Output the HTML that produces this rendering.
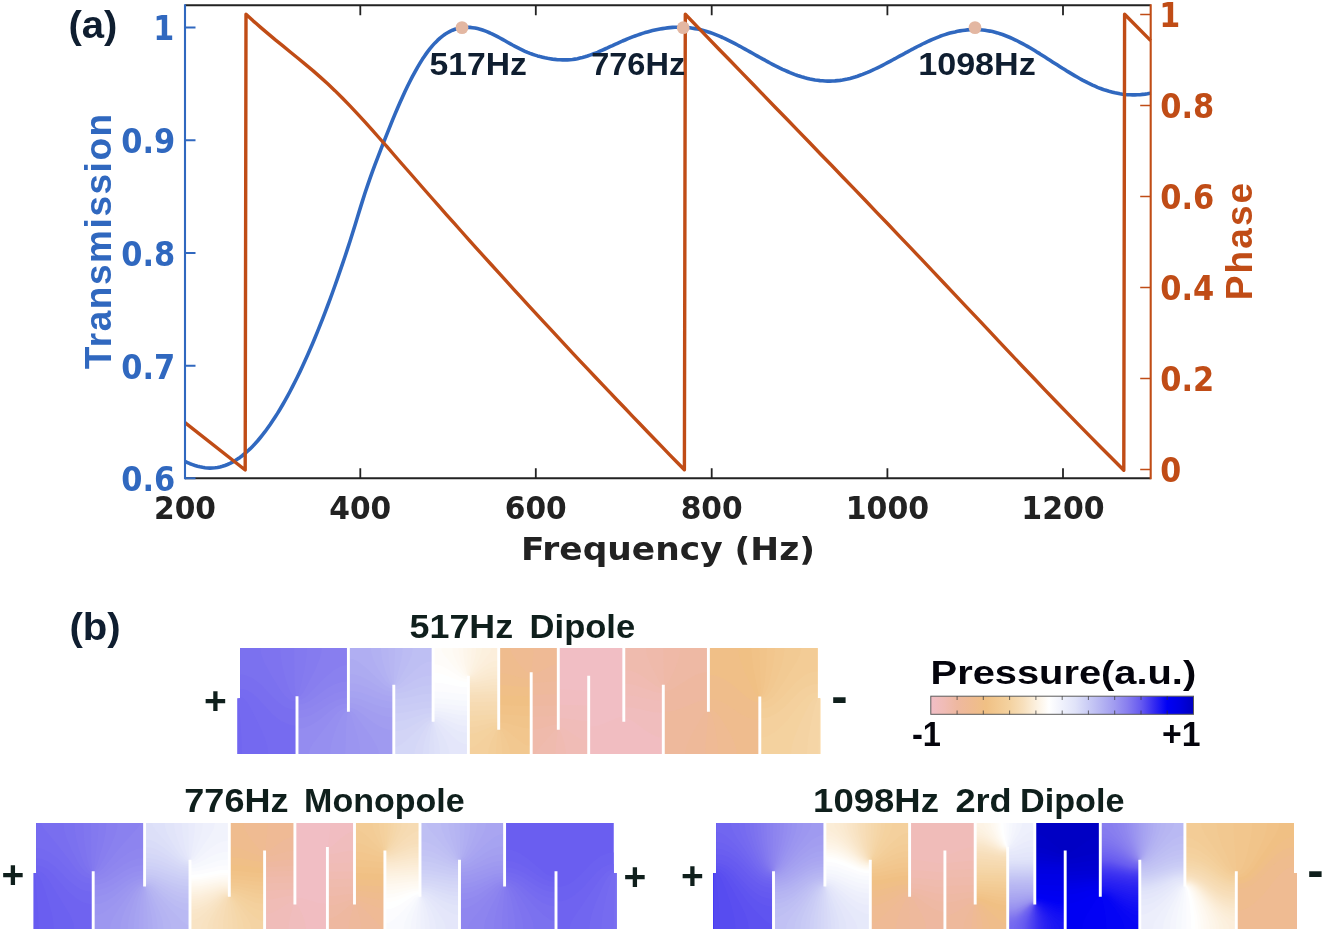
<!DOCTYPE html>
<html lang="en"><head><meta charset="utf-8"><title>Figure</title>
<style>
html,body{margin:0;padding:0;background:#fff;}
body{width:1324px;height:932px;overflow:hidden;}
svg{display:block;will-change:transform;}
text{white-space:pre;}
</style></head><body>
<svg width="1324" height="932" viewBox="0 0 1324 932">
<g fill="none" stroke-linejoin="miter">
<path d="M185.0,461.5 L187.5,462.6 L190.0,463.7 L192.5,464.6 L195.0,465.5 L197.5,466.2 L200.0,466.8 L202.5,467.3 L205.0,467.7 L207.5,468.0 L210.0,468.1 L212.5,468.0 L215.0,467.8 L217.5,467.5 L220.0,467.0 L222.5,466.3 L225.0,465.5 L227.5,464.5 L230.0,463.4 L232.5,462.1 L235.0,460.7 L237.5,459.1 L240.0,457.4 L242.5,455.5 L245.0,453.4 L247.5,451.2 L250.0,448.9 L252.5,446.4 L255.0,443.8 L257.5,441.0 L260.0,438.0 L262.5,434.9 L265.0,431.7 L267.5,428.3 L270.0,424.8 L272.5,421.1 L275.0,417.3 L277.5,413.4 L280.0,409.3 L282.5,405.0 L285.0,400.7 L287.5,396.2 L290.0,391.5 L292.5,386.7 L295.0,381.8 L297.5,376.8 L300.0,371.6 L302.5,366.3 L305.0,360.8 L307.5,355.2 L310.0,349.5 L312.5,343.7 L315.0,337.7 L317.5,331.6 L320.0,325.4 L322.5,319.1 L325.0,312.6 L327.5,306.0 L330.0,299.3 L332.5,292.5 L335.0,285.5 L337.5,278.4 L340.0,271.2 L342.5,263.9 L345.0,256.5 L347.5,248.9 L350.0,241.2 L352.5,233.3 L355.0,225.2 L357.5,217.0 L360.0,208.9 L362.5,200.9 L365.0,193.0 L367.5,185.6 L370.0,178.3 L372.5,171.4 L375.0,164.7 L377.5,158.1 L380.0,151.6 L382.5,145.2 L385.0,138.9 L387.5,132.6 L390.0,126.3 L392.5,120.1 L395.0,114.1 L397.5,108.2 L400.0,102.5 L402.5,96.9 L405.0,91.5 L407.5,86.3 L410.0,81.3 L412.5,76.4 L415.0,71.8 L417.5,67.3 L420.0,63.1 L422.5,59.1 L425.0,55.4 L427.5,51.9 L430.0,48.6 L432.5,45.6 L435.0,42.9 L437.5,40.4 L440.0,38.1 L442.5,36.1 L445.0,34.3 L447.5,32.8 L450.0,31.4 L452.5,30.2 L455.0,29.3 L457.5,28.5 L460.0,28.0 L462.5,27.6 L465.0,27.4 L467.5,27.3 L470.0,27.4 L472.5,27.7 L475.0,28.0 L477.5,28.6 L480.0,29.2 L482.5,30.0 L485.0,30.9 L487.5,31.9 L490.0,33.0 L492.5,34.2 L495.0,35.4 L497.5,36.7 L500.0,38.0 L502.5,39.4 L505.0,40.8 L507.5,42.2 L510.0,43.6 L512.5,45.0 L515.0,46.3 L517.5,47.6 L520.0,48.9 L522.5,50.1 L525.0,51.3 L527.5,52.4 L530.0,53.4 L532.5,54.3 L535.0,55.1 L537.5,55.9 L540.0,56.6 L542.5,57.2 L545.0,57.8 L547.5,58.3 L550.0,58.7 L552.5,59.1 L555.0,59.4 L557.5,59.7 L560.0,59.8 L562.5,59.9 L565.0,59.9 L567.5,59.9 L570.0,59.7 L572.5,59.5 L575.0,59.1 L577.5,58.7 L580.0,58.1 L582.5,57.5 L585.0,56.8 L587.5,56.0 L590.0,55.1 L592.5,54.2 L595.0,53.3 L597.5,52.3 L600.0,51.2 L602.5,50.1 L605.0,49.0 L607.5,47.9 L610.0,46.7 L612.5,45.6 L615.0,44.4 L617.5,43.3 L620.0,42.2 L622.5,41.0 L625.0,40.0 L627.5,38.9 L630.0,37.9 L632.5,36.9 L635.0,36.0 L637.5,35.1 L640.0,34.2 L642.5,33.4 L645.0,32.6 L647.5,31.9 L650.0,31.2 L652.5,30.6 L655.0,30.0 L657.5,29.5 L660.0,29.0 L662.5,28.6 L665.0,28.2 L667.5,27.9 L670.0,27.6 L672.5,27.4 L675.0,27.3 L677.5,27.2 L680.0,27.2 L682.5,27.3 L685.0,27.4 L687.5,27.6 L690.0,27.8 L692.5,28.2 L695.0,28.6 L697.5,29.0 L700.0,29.6 L702.5,30.2 L705.0,30.9 L707.5,31.7 L710.0,32.5 L712.5,33.4 L715.0,34.4 L717.5,35.4 L720.0,36.4 L722.5,37.5 L725.0,38.7 L727.5,39.9 L730.0,41.1 L732.5,42.4 L735.0,43.7 L737.5,45.0 L740.0,46.3 L742.5,47.7 L745.0,49.1 L747.5,50.5 L750.0,51.9 L752.5,53.3 L755.0,54.7 L757.5,56.1 L760.0,57.5 L762.5,58.9 L765.0,60.2 L767.5,61.6 L770.0,63.0 L772.5,64.3 L775.0,65.6 L777.5,66.8 L780.0,68.1 L782.5,69.3 L785.0,70.4 L787.5,71.5 L790.0,72.6 L792.5,73.6 L795.0,74.6 L797.5,75.5 L800.0,76.3 L802.5,77.1 L805.0,77.8 L807.5,78.4 L810.0,79.0 L812.5,79.5 L815.0,80.0 L817.5,80.3 L820.0,80.6 L822.5,80.8 L825.0,81.0 L827.5,81.1 L830.0,81.1 L832.5,81.0 L835.0,80.9 L837.5,80.6 L840.0,80.4 L842.5,80.0 L845.0,79.5 L847.5,79.0 L850.0,78.4 L852.5,77.7 L855.0,77.0 L857.5,76.2 L860.0,75.3 L862.5,74.4 L865.0,73.4 L867.5,72.4 L870.0,71.3 L872.5,70.2 L875.0,69.0 L877.5,67.8 L880.0,66.6 L882.5,65.3 L885.0,64.0 L887.5,62.7 L890.0,61.4 L892.5,60.0 L895.0,58.7 L897.5,57.3 L900.0,55.9 L902.5,54.6 L905.0,53.2 L907.5,51.9 L910.0,50.5 L912.5,49.2 L915.0,47.8 L917.5,46.5 L920.0,45.3 L922.5,44.0 L925.0,42.8 L927.5,41.6 L930.0,40.5 L932.5,39.4 L935.0,38.3 L937.5,37.3 L940.0,36.3 L942.5,35.4 L945.0,34.6 L947.5,33.8 L950.0,33.1 L952.5,32.4 L955.0,31.9 L957.5,31.3 L960.0,30.9 L962.5,30.5 L965.0,30.2 L967.5,29.9 L970.0,29.8 L972.5,29.7 L975.0,29.6 L977.5,29.7 L980.0,29.8 L982.5,30.0 L985.0,30.3 L987.5,30.7 L990.0,31.1 L992.5,31.6 L995.0,32.2 L997.5,32.9 L1000.0,33.7 L1002.5,34.5 L1005.0,35.5 L1007.5,36.5 L1010.0,37.5 L1012.5,38.6 L1015.0,39.8 L1017.5,41.0 L1020.0,42.3 L1022.5,43.6 L1025.0,45.0 L1027.5,46.4 L1030.0,47.8 L1032.5,49.3 L1035.0,50.8 L1037.5,52.4 L1040.0,53.9 L1042.5,55.5 L1045.0,57.1 L1047.5,58.7 L1050.0,60.3 L1052.5,61.9 L1055.0,63.5 L1057.5,65.1 L1060.0,66.7 L1062.5,68.3 L1065.0,69.8 L1067.5,71.4 L1070.0,72.9 L1072.5,74.4 L1075.0,75.9 L1077.5,77.3 L1080.0,78.7 L1082.5,80.1 L1085.0,81.4 L1087.5,82.7 L1090.0,83.9 L1092.5,85.1 L1095.0,86.2 L1097.5,87.3 L1100.0,88.3 L1102.5,89.2 L1105.0,90.1 L1107.5,90.8 L1110.0,91.6 L1112.5,92.2 L1115.0,92.8 L1117.5,93.3 L1120.0,93.8 L1122.5,94.2 L1125.0,94.5 L1127.5,94.7 L1130.0,94.8 L1132.5,94.9 L1135.0,94.9 L1137.5,94.8 L1140.0,94.7 L1142.5,94.4 L1145.0,94.1 L1147.5,93.7 L1150.0,93.2 L1150.7,93.0" stroke="#3068bf" stroke-width="3.6" stroke-linejoin="round"/>
<path d="M185,422.7 L245.2,470 L246.0,14.3 L253.4,21.1 L260.9,27.6 L268.3,33.9 L275.7,40.1 L283.2,46.1 L290.6,52.2 L298.0,58.2 L305.4,64.4 L312.9,70.6 L320.3,77.1 L327.7,83.8 L335.2,90.9 L342.6,98.3 L350.0,105.9 L357.5,113.8 L364.9,121.8 L372.3,130.1 L379.7,138.5 L387.2,146.9 L394.6,155.5 L402.0,164.0 L409.5,172.5 L416.9,181.0 L424.3,189.5 L431.8,198.0 L439.2,206.4 L446.6,214.8 L454.1,223.1 L461.5,231.5 L468.9,239.8 L476.3,248.1 L483.8,256.3 L491.2,264.5 L498.6,272.7 L506.1,280.9 L513.5,289.1 L520.9,297.2 L528.4,305.3 L535.8,313.4 L543.2,321.4 L550.7,329.4 L558.1,337.4 L565.5,345.4 L572.9,353.3 L580.4,361.3 L587.8,369.2 L595.2,377.0 L602.7,384.9 L610.1,392.7 L617.5,400.5 L625.0,408.3 L632.4,416.1 L639.8,423.8 L647.2,431.5 L654.7,439.2 L662.1,446.9 L669.5,454.6 L677.0,462.2 L684.4,469.8 L685.3,14.3 L685.3,14.3 L696.5,25.9 L707.8,37.6 L719.0,49.2 L730.3,60.8 L741.5,72.4 L752.8,84.0 L764.0,95.6 L775.2,107.2 L786.5,118.8 L797.7,130.4 L809.0,142.0 L820.2,153.7 L831.5,165.3 L842.7,177.0 L854.0,188.6 L865.2,200.3 L876.4,212.1 L887.7,223.8 L898.9,235.6 L910.2,247.4 L921.4,259.2 L932.7,271.1 L943.9,283.0 L955.1,294.9 L966.4,306.8 L977.6,318.7 L988.9,330.7 L1000.1,342.6 L1011.4,354.7 L1022.6,366.5 L1033.9,378.3 L1045.1,390.1 L1056.3,401.7 L1067.6,413.4 L1078.8,424.9 L1090.1,436.4 L1101.3,447.7 L1112.6,459.0 L1123.8,470.2 L1124.6,14.3 L1150.7,40.6" stroke="#c04c16" stroke-width="3.4" stroke-linejoin="round"/>
</g>
<g fill="none" stroke-linecap="butt">
<path d="M185.0,5.3 H1150.7 M185.0,478.2 H1150.7" stroke="#222222" stroke-width="1.9"/>
<path d="M360.3,5.3 v10 M360.3,478.2 v-10 M535.8,5.3 v10 M535.8,478.2 v-10 M711.7,5.3 v10 M711.7,478.2 v-10 M887.4,5.3 v10 M887.4,478.2 v-10 M1063.0,5.3 v10 M1063.0,478.2 v-10 " stroke="#222222" stroke-width="1.8"/>
<path d="M185.0,4.3 V479.2" stroke="#3068bf" stroke-width="2.1"/>
<path d="M185.0,27.5 h10.5 M185.0,140.3 h10.5 M185.0,253.0 h10.5 M185.0,365.7 h10.5 M185.0,478.2 h10.5 " stroke="#3068bf" stroke-width="1.9"/>
<path d="M1150.7,4.3 V479.2" stroke="#c04c16" stroke-width="2.1"/>
<path d="M1150.7,14.4 h-10.5 M1150.7,105.4 h-10.5 M1150.7,196.5 h-10.5 M1150.7,287.5 h-10.5 M1150.7,378.5 h-10.5 M1150.7,469.5 h-10.5 " stroke="#c04c16" stroke-width="1.5"/>
</g>
<circle cx="462" cy="27.6" r="6.4" fill="#e3b7a2"/>
<circle cx="683.2" cy="27.7" r="6.4" fill="#e3b7a2"/>
<circle cx="975" cy="27.6" r="6.4" fill="#e3b7a2"/>
<text x="174.2" y="40.3" font-family='"DejaVu Sans Condensed","DejaVu Sans",sans-serif' font-size="33" font-weight="bold" fill="#3068bf" text-anchor="end" textLength="21.0" lengthAdjust="spacingAndGlyphs">1</text>
<text x="175.2" y="153.10000000000002" font-family='"DejaVu Sans Condensed","DejaVu Sans",sans-serif' font-size="33" font-weight="bold" fill="#3068bf" text-anchor="end" textLength="54.0" lengthAdjust="spacingAndGlyphs">0.9</text>
<text x="175.2" y="265.8" font-family='"DejaVu Sans Condensed","DejaVu Sans",sans-serif' font-size="33" font-weight="bold" fill="#3068bf" text-anchor="end" textLength="54.0" lengthAdjust="spacingAndGlyphs">0.8</text>
<text x="175.2" y="378.5" font-family='"DejaVu Sans Condensed","DejaVu Sans",sans-serif' font-size="33" font-weight="bold" fill="#3068bf" text-anchor="end" textLength="54.0" lengthAdjust="spacingAndGlyphs">0.7</text>
<text x="175.2" y="491.0" font-family='"DejaVu Sans Condensed","DejaVu Sans",sans-serif' font-size="33" font-weight="bold" fill="#3068bf" text-anchor="end" textLength="54.0" lengthAdjust="spacingAndGlyphs">0.6</text>
<text x="1159.2" y="27.200000000000003" font-family='"DejaVu Sans Condensed","DejaVu Sans",sans-serif' font-size="33" font-weight="bold" fill="#c04c16" text-anchor="start" textLength="21.0" lengthAdjust="spacingAndGlyphs">1</text>
<text x="1160.2" y="118.2" font-family='"DejaVu Sans Condensed","DejaVu Sans",sans-serif' font-size="33" font-weight="bold" fill="#c04c16" text-anchor="start" textLength="54.0" lengthAdjust="spacingAndGlyphs">0.8</text>
<text x="1160.2" y="209.3" font-family='"DejaVu Sans Condensed","DejaVu Sans",sans-serif' font-size="33" font-weight="bold" fill="#c04c16" text-anchor="start" textLength="54.0" lengthAdjust="spacingAndGlyphs">0.6</text>
<text x="1160.2" y="300.3" font-family='"DejaVu Sans Condensed","DejaVu Sans",sans-serif' font-size="33" font-weight="bold" fill="#c04c16" text-anchor="start" textLength="54.0" lengthAdjust="spacingAndGlyphs">0.4</text>
<text x="1160.2" y="391.3" font-family='"DejaVu Sans Condensed","DejaVu Sans",sans-serif' font-size="33" font-weight="bold" fill="#c04c16" text-anchor="start" textLength="54.0" lengthAdjust="spacingAndGlyphs">0.2</text>
<text x="1160.2" y="482.3" font-family='"DejaVu Sans Condensed","DejaVu Sans",sans-serif' font-size="33" font-weight="bold" fill="#c04c16" text-anchor="start" textLength="21.0" lengthAdjust="spacingAndGlyphs">0</text>
<text x="185.0" y="518.6" font-family='"DejaVu Sans Condensed","DejaVu Sans",sans-serif' font-size="32.5" font-weight="bold" fill="#222222" text-anchor="middle" textLength="62.0" lengthAdjust="spacingAndGlyphs">200</text>
<text x="360.3" y="518.6" font-family='"DejaVu Sans Condensed","DejaVu Sans",sans-serif' font-size="32.5" font-weight="bold" fill="#222222" text-anchor="middle" textLength="62.0" lengthAdjust="spacingAndGlyphs">400</text>
<text x="535.8" y="518.6" font-family='"DejaVu Sans Condensed","DejaVu Sans",sans-serif' font-size="32.5" font-weight="bold" fill="#222222" text-anchor="middle" textLength="62.0" lengthAdjust="spacingAndGlyphs">600</text>
<text x="711.7" y="518.6" font-family='"DejaVu Sans Condensed","DejaVu Sans",sans-serif' font-size="32.5" font-weight="bold" fill="#222222" text-anchor="middle" textLength="62.0" lengthAdjust="spacingAndGlyphs">800</text>
<text x="887.4" y="518.6" font-family='"DejaVu Sans Condensed","DejaVu Sans",sans-serif' font-size="32.5" font-weight="bold" fill="#222222" text-anchor="middle" textLength="83.4" lengthAdjust="spacingAndGlyphs">1000</text>
<text x="1063.0" y="518.6" font-family='"DejaVu Sans Condensed","DejaVu Sans",sans-serif' font-size="32.5" font-weight="bold" fill="#222222" text-anchor="middle" textLength="83.4" lengthAdjust="spacingAndGlyphs">1200</text>
<text x="668" y="559.8" font-family='"DejaVu Sans",sans-serif' font-size="32.5" font-weight="bold" fill="#222222" text-anchor="middle" textLength="294" lengthAdjust="spacingAndGlyphs">Frequency (Hz)</text>
<text transform="translate(110.8,369.3) rotate(-90)" font-family='"Liberation Sans",sans-serif' font-size="37" font-weight="bold" fill="#3068bf" textLength="255.5" lengthAdjust="spacing">Transmission</text>
<text transform="translate(1252,300.3) rotate(-90)" font-family='"Liberation Sans",sans-serif' font-size="37" font-weight="bold" fill="#c04c16" textLength="117.5" lengthAdjust="spacing">Phase</text>
<text x="429.6" y="75.2" font-family='"Liberation Sans",sans-serif' font-size="30.6" font-weight="bold" fill="#0f1e30" text-anchor="start" textLength="97.3" lengthAdjust="spacingAndGlyphs">517Hz</text>
<text x="591.2" y="75.2" font-family='"Liberation Sans",sans-serif' font-size="30.6" font-weight="bold" fill="#0f1e30" text-anchor="start" textLength="94" lengthAdjust="spacingAndGlyphs">776Hz</text>
<text x="918.2" y="75.2" font-family='"Liberation Sans",sans-serif' font-size="30.6" font-weight="bold" fill="#0f1e30" text-anchor="start" textLength="117.6" lengthAdjust="spacingAndGlyphs">1098Hz</text>
<text x="68.4" y="37.6" font-family='"Liberation Sans",sans-serif' font-size="39.6" font-weight="bold" fill="#0f1e30" text-anchor="start" textLength="49" lengthAdjust="spacingAndGlyphs">(a)</text>
<text x="69.4" y="639.6" font-family='"Liberation Sans",sans-serif' font-size="39.6" font-weight="bold" fill="#0f1e30" text-anchor="start" textLength="51.3" lengthAdjust="spacingAndGlyphs">(b)</text>
<text x="409.6" y="637.9" font-family='"Liberation Sans",sans-serif' font-size="32.4" font-weight="bold" fill="#0f1f1c" text-anchor="start" textLength="103.5" lengthAdjust="spacingAndGlyphs">517Hz</text>
<text x="529.6" y="637.9" font-family='"Liberation Sans",sans-serif' font-size="32.4" font-weight="bold" fill="#0f1f1c" text-anchor="start" textLength="105.6" lengthAdjust="spacingAndGlyphs">Dipole</text>
<text x="184.3" y="811.9" font-family='"Liberation Sans",sans-serif' font-size="32.4" font-weight="bold" fill="#0f1f1c" text-anchor="start" textLength="104.2" lengthAdjust="spacingAndGlyphs">776Hz</text>
<text x="304.1" y="811.9" font-family='"Liberation Sans",sans-serif' font-size="32.4" font-weight="bold" fill="#0f1f1c" text-anchor="start" textLength="160.6" lengthAdjust="spacingAndGlyphs">Monopole</text>
<text x="813.1" y="811.9" font-family='"Liberation Sans",sans-serif' font-size="32.4" font-weight="bold" fill="#0f1f1c" text-anchor="start" textLength="125.8" lengthAdjust="spacingAndGlyphs">1098Hz</text>
<text x="955.4" y="811.9" font-family='"Liberation Sans",sans-serif' font-size="32.4" font-weight="bold" fill="#0f1f1c" text-anchor="start" textLength="56.3" lengthAdjust="spacingAndGlyphs">2rd</text>
<text x="1020.0" y="811.9" font-family='"Liberation Sans",sans-serif' font-size="32.4" font-weight="bold" fill="#0f1f1c" text-anchor="start" textLength="104.4" lengthAdjust="spacingAndGlyphs">Dipole</text>
<text x="215.4" y="713.6999999999999" font-family='"Liberation Sans",sans-serif' font-size="39" font-weight="bold" fill="#0f1f1c" text-anchor="middle">+</text>
<text x="839.4" y="712.6" font-family='"Liberation Sans",sans-serif' font-size="49" font-weight="bold" fill="#0f1f1c" text-anchor="middle">-</text>
<text x="12.8" y="888.1" font-family='"Liberation Sans",sans-serif' font-size="39" font-weight="bold" fill="#0f1f1c" text-anchor="middle">+</text>
<text x="635.0" y="889.6" font-family='"Liberation Sans",sans-serif' font-size="39" font-weight="bold" fill="#0f1f1c" text-anchor="middle">+</text>
<text x="692.3" y="888.5" font-family='"Liberation Sans",sans-serif' font-size="39" font-weight="bold" fill="#0f1f1c" text-anchor="middle">+</text>
<text x="1315.5" y="887.1" font-family='"Liberation Sans",sans-serif' font-size="49" font-weight="bold" fill="#0f1f1c" text-anchor="middle">-</text>
<defs><linearGradient id="cbar" x1="0" x2="1" y1="0" y2="0"><stop offset="0.000" stop-color="#f1bec6"/><stop offset="0.050" stop-color="#f0bcb6"/><stop offset="0.100" stop-color="#eeb8a0"/><stop offset="0.160" stop-color="#efbb90"/><stop offset="0.210" stop-color="#f0c084"/><stop offset="0.250" stop-color="#f2c890"/><stop offset="0.300" stop-color="#f4d2a0"/><stop offset="0.350" stop-color="#f7dfbb"/><stop offset="0.400" stop-color="#fcf0de"/><stop offset="0.450" stop-color="#ffffff"/><stop offset="0.500" stop-color="#eff1fc"/><stop offset="0.550" stop-color="#e0e3f9"/><stop offset="0.600" stop-color="#caccf5"/><stop offset="0.650" stop-color="#b5b4f2"/><stop offset="0.700" stop-color="#a09bf0"/><stop offset="0.750" stop-color="#877def"/><stop offset="0.800" stop-color="#665af0"/><stop offset="0.850" stop-color="#342af1"/><stop offset="0.900" stop-color="#0000f5"/><stop offset="0.950" stop-color="#0000e0"/><stop offset="1.000" stop-color="#0000be"/></linearGradient></defs>
<rect x="930.8" y="696.2" width="262.7" height="18.1" fill="url(#cbar)" stroke="#5a5a5a" stroke-width="1"/>
<path d="M957.1,696.2v3.8M957.1,714.3v-3.8M983.3,696.2v3.8M983.3,714.3v-3.8M1009.6,696.2v3.8M1009.6,714.3v-3.8M1035.9,696.2v3.8M1035.9,714.3v-3.8M1062.2,696.2v3.8M1062.2,714.3v-3.8M1088.4,696.2v3.8M1088.4,714.3v-3.8M1114.7,696.2v3.8M1114.7,714.3v-3.8M1141.0,696.2v3.8M1141.0,714.3v-3.8M1167.2,696.2v3.8M1167.2,714.3v-3.8" stroke="#333" stroke-opacity="0.8" stroke-width="0.9" fill="none"/>
<text x="930.6" y="683.6" font-family='"Liberation Sans",sans-serif' font-size="33.8" font-weight="bold" fill="#04040c" text-anchor="start" textLength="265.6" lengthAdjust="spacingAndGlyphs">Pressure(a.u.)</text>
<text x="912.0" y="746.0" font-family='"Liberation Sans",sans-serif' font-size="35" font-weight="bold" fill="#04040c" text-anchor="start" textLength="29" lengthAdjust="spacingAndGlyphs">-1</text>
<text x="1162.0" y="746.0" font-family='"Liberation Sans",sans-serif' font-size="35" font-weight="bold" fill="#04040c" text-anchor="start" textLength="38.5" lengthAdjust="spacingAndGlyphs">+1</text>
<clipPath id="clip1"><path d="M240.1,648.0 L817.3,648.0 L817.3,698.2 L820.2,698.2 L820.2,754.0 L237.2,754.0 L237.2,698.2 L240.1,698.2Z"/></clipPath>
<g clip-path="url(#clip1)">
<rect x="236.2" y="647.0" width="585.0" height="108.0" fill="#7166f0"/>
<path fill="#7469f0" d="M236.9,647.8L820.5,647.8L820.5,754.2L241.9,754.2L241.4,737.8L240.0,716.8L238.2,696.2L237.4,695.2L236.9,695.2Z"/>
<path fill="#766bf0" d="M236.9,647.8L820.5,647.8L820.5,754.2L268.2,754.2L267.4,746.8L265.1,738.8L260.4,727.8L252.1,710.8L248.4,704.2L245.0,699.8L242.4,697.6L239.4,696.8L237.4,694.9L236.9,694.9Z"/>
<path fill="#796eef" d="M236.9,647.8L820.5,647.8L820.5,754.2L297.0,754.2L296.9,725.6L292.9,725.4L288.9,724.6L281.4,721.2L276.9,718.1L272.4,714.2L257.9,698.4L252.2,693.2L248.4,690.9L244.9,689.6L241.4,688.9L236.9,688.9Z"/>
<path fill="#7b71ef" d="M236.9,647.8L820.5,647.8L820.5,754.2L297.0,754.2L296.9,709.8L292.9,709.6L288.9,708.7L284.9,707.0L281.3,704.8L274.9,699.3L260.9,684.5L252.9,678.4L245.4,675.2L241.9,674.6L236.9,674.5Z"/>
<path fill="#7e73ef" d="M260.2,647.8L820.5,647.8L820.5,754.2L297.0,754.2L296.9,701.5L292.4,701.0L288.4,699.0L284.4,695.2L280.1,689.8L270.7,674.2L263.9,661.8L261.1,654.2Z"/>
<path fill="#8076ef" d="M280.3,647.8L820.5,647.8L820.5,754.2L297.1,754.2L297.0,697.8L294.2,696.8L291.8,694.2L289.3,689.8L287.0,683.8L284.1,673.8L281.8,663.8L280.6,655.2Z"/>
<path fill="#8379ef" d="M294.1,647.8L820.5,647.8L820.5,754.2L297.1,754.2L297.1,697.8L296.2,696.2L295.7,693.8L294.6,684.8Z"/>
<path fill="#857bef" d="M306.9,647.8L820.5,647.8L820.5,754.2L297.2,754.2L297.3,697.8L300.2,687.8L304.9,666.8L306.4,656.8Z"/>
<path fill="#887eef" d="M321.5,647.8L820.5,647.8L820.5,754.2L297.2,754.2L297.4,697.8L300.6,695.8L303.7,691.8L314.5,671.2L319.9,658.2L321.2,652.8Z"/>
<path fill="#8a81ef" d="M348.5,647.8L820.5,647.8L820.5,754.2L297.2,754.2L297.4,700.1L301.9,699.3L306.8,696.2L324.4,677.9L333.9,670.0L341.4,666.1L344.9,665.3L348.4,665.1Z"/>
<path fill="#8d84ef" d="M348.5,647.8L820.5,647.8L820.5,754.2L297.3,754.2L297.4,704.6L302.9,704.0L308.4,701.7L313.4,698.5L326.4,688.8L333.9,684.4L341.4,681.9L348.4,681.3Z"/>
<path fill="#8f86ef" d="M348.5,647.8L820.5,647.8L820.5,754.2L297.3,754.2L297.4,710.5L303.9,709.8L310.4,707.6L315.9,704.6L328.4,696.5L335.4,693.1L341.9,691.2L348.4,690.7Z"/>
<path fill="#9189ef" d="M348.5,647.8L820.5,647.8L820.5,754.2L297.4,754.2L297.4,718.0L304.4,717.3L311.4,714.9L317.4,711.6L330.4,703.1L336.9,699.8L342.4,698.2L348.4,697.7Z"/>
<path fill="#948cf0" d="M348.6,647.8L820.5,647.8L820.5,754.2L297.4,754.2L297.4,728.8L303.9,728.1L310.4,725.6L317.9,720.9L331.1,710.2L336.4,706.5L342.4,703.9L348.4,703.3Z"/>
<path fill="#968ff0" d="M348.6,647.8L820.5,647.8L820.5,754.2L308.8,754.2L309.6,749.8L312.8,743.8L333.2,717.2L337.3,712.8L341.4,709.5L344.9,708.0L348.4,707.7Z"/>
<path fill="#9892f0" d="M348.6,647.8L820.5,647.8L820.5,754.2L330.1,754.2L330.6,747.8L331.8,741.2L334.3,733.2L337.5,724.8L340.5,718.2L343.3,713.8L345.8,711.2L348.5,710.2Z"/>
<path fill="#9b95f0" d="M348.7,647.8L820.5,647.8L820.5,754.2L345.3,754.2L346.2,723.2L347.3,714.2L347.9,711.2L348.6,710.2Z"/>
<path fill="#9d97f0" d="M348.7,647.8L820.5,647.8L820.5,754.2L360.1,754.2L359.5,746.2L357.6,736.8L352.2,718.8L349.5,711.2L348.8,710.2Z"/>
<path fill="#9f9af0" d="M348.7,647.8L820.5,647.8L820.5,754.2L378.7,754.2L378.4,750.8L377.1,746.8L371.2,736.8L355.4,714.8L351.9,711.4L348.9,710.2Z"/>
<path fill="#a29df0" d="M348.7,647.8L820.5,647.8L820.5,754.2L394.0,754.2L393.9,730.2L387.4,729.6L380.4,727.0L372.9,722.3L357.2,710.2L352.9,708.2L348.9,707.7Z"/>
<path fill="#a4a0f0" d="M348.8,647.8L820.5,647.8L820.5,754.2L394.0,754.2L393.9,717.2L387.9,716.9L381.9,715.5L374.9,712.8L358.9,704.9L353.9,703.5L348.9,703.0Z"/>
<path fill="#a6a3f1" d="M348.8,647.8L820.5,647.8L820.5,754.2L394.0,754.2L393.9,708.4L388.4,708.2L382.9,707.2L376.9,705.4L359.9,698.9L354.4,697.7L348.9,697.4Z"/>
<path fill="#a9a5f1" d="M348.8,647.8L820.5,647.8L820.5,754.2L394.0,754.2L393.9,701.6L388.9,701.4L383.9,700.6L377.9,698.8L360.9,692.5L354.9,691.2L348.9,690.9Z"/>
<path fill="#aba8f1" d="M348.9,647.8L820.5,647.8L820.5,754.2L394.1,754.2L393.9,696.2L388.4,695.9L382.9,694.5L365.9,687.0L359.9,684.8L354.4,683.6L348.9,683.3Z"/>
<path fill="#adabf1" d="M348.9,647.8L820.5,647.8L820.5,754.2L394.1,754.2L393.9,691.9L388.9,691.5L383.9,689.7L366.9,679.4L360.4,676.2L354.4,674.4L348.9,673.9Z"/>
<path fill="#b0aef2" d="M348.9,647.8L820.5,647.8L820.5,754.2L394.1,754.2L393.9,688.6L389.4,688.0L384.6,685.2L365.9,667.7L358.4,661.8L353.4,659.2L348.9,658.6Z"/>
<path fill="#b2b1f2" d="M370.8,647.8L820.5,647.8L820.5,754.2L394.1,754.2L393.9,686.3L390.9,685.8L388.2,683.8L384.8,679.8L380.3,672.8L375.8,664.8L372.9,658.2L371.3,652.8Z"/>
<path fill="#b5b4f2" d="M380.8,647.8L820.5,647.8L820.5,754.2L394.1,754.2L394.0,686.2L392.0,684.8L390.1,682.2L385.6,671.8L382.0,658.8Z"/>
<path fill="#b7b6f2" d="M388.2,647.8L820.5,647.8L820.5,754.2L394.2,754.2L394.1,686.2L393.0,684.8L392.2,682.2L390.3,672.8L388.7,659.8Z"/>
<path fill="#b9b9f3" d="M395.2,647.8L820.5,647.8L820.5,754.2L394.2,754.2L394.2,686.2L393.8,681.2Z"/>
<path fill="#bcbcf3" d="M402.6,647.8L820.5,647.8L820.5,754.2L394.2,754.2L394.3,686.2L401.0,661.2L402.2,654.2Z"/>
<path fill="#bebff3" d="M412.7,647.8L820.5,647.8L820.5,754.2L394.2,754.2L394.4,686.2L396.8,683.8L399.1,680.2L408.8,662.2L411.9,654.2Z"/>
<path fill="#c1c1f4" d="M433.0,647.8L820.5,647.8L820.5,754.2L394.3,754.2L394.4,686.5L396.9,686.1L400.0,684.2L413.9,670.9L421.4,665.0L427.4,662.0L432.9,661.3Z"/>
<path fill="#c3c4f4" d="M433.0,647.8L820.5,647.8L820.5,754.2L394.3,754.2L394.4,689.3L397.9,689.0L401.6,687.8L415.4,680.0L421.4,677.3L427.4,675.7L432.9,675.4Z"/>
<path fill="#c5c7f4" d="M433.0,647.8L820.5,647.8L820.5,754.2L394.3,754.2L394.4,693.5L398.4,693.3L402.9,692.4L422.4,686.2L427.4,685.4L432.9,685.1Z"/>
<path fill="#c8caf5" d="M433.0,647.8L820.5,647.8L820.5,754.2L394.3,754.2L394.4,699.1L403.4,698.4L423.4,694.2L432.9,693.6Z"/>
<path fill="#caccf5" d="M433.0,647.8L820.5,647.8L820.5,754.2L394.4,754.2L394.4,705.9L404.4,705.2L423.9,701.6L432.9,701.1Z"/>
<path fill="#cdcff6" d="M433.0,647.8L820.5,647.8L820.5,754.2L394.4,754.2L394.4,713.4L403.4,712.8L423.4,708.4L432.9,707.7Z"/>
<path fill="#cfd2f6" d="M433.0,647.8L820.5,647.8L820.5,754.2L394.4,754.2L394.4,721.7L403.9,720.6L423.9,714.1L428.4,713.2L432.9,713.0Z"/>
<path fill="#d2d4f6" d="M433.1,647.8L820.5,647.8L820.5,754.2L394.4,754.2L394.4,731.2L399.4,730.8L404.4,729.4L409.9,726.9L424.9,718.5L428.9,717.3L432.9,717.0Z"/>
<path fill="#d4d7f7" d="M433.1,647.8L820.5,647.8L820.5,754.2L394.4,754.2L394.4,746.8L398.0,746.3L401.9,744.1L408.9,738.3L425.1,722.8L429.2,720.2L432.9,719.8Z"/>
<path fill="#d7d9f7" d="M433.1,647.8L820.5,647.8L820.5,754.2L414.6,754.2L414.9,750.2L416.1,745.8L421.2,734.8L427.9,724.2L429.9,722.2L433.0,720.8Z"/>
<path fill="#d9dcf8" d="M433.1,647.8L820.5,647.8L820.5,754.2L422.8,754.2L423.6,745.8L426.2,735.2L429.8,725.2L431.5,722.2L433.1,720.8Z"/>
<path fill="#dcdff8" d="M433.1,647.8L820.5,647.8L820.5,754.2L429.0,754.2L429.3,744.8L430.4,733.8L432.3,722.2L433.1,720.8Z"/>
<path fill="#dee1f9" d="M433.1,647.8L820.5,647.8L820.5,754.2L434.4,754.2L433.0,722.2Z"/>
<path fill="#e1e4f9" d="M433.2,647.8L820.5,647.8L820.5,754.2L439.9,754.2L439.6,748.2L438.5,741.2L433.3,720.8Z"/>
<path fill="#e4e6fa" d="M433.2,647.8L820.5,647.8L820.5,754.2L449.3,754.2L448.4,747.8L445.5,740.2L437.9,726.2L435.8,723.2L433.4,720.8Z"/>
<path fill="#e6e9fa" d="M433.2,647.8L820.5,647.8L820.5,754.2L468.5,754.2L468.4,744.6L464.0,744.1L458.9,741.4L452.4,736.1L438.7,722.8L435.9,721.0L433.4,720.7Z"/>
<path fill="#e9ebfb" d="M433.2,647.8L820.5,647.8L820.5,754.2L468.5,754.2L468.4,732.8L463.4,732.5L457.9,730.9L452.4,728.1L439.7,720.2L436.4,719.0L433.4,718.8Z"/>
<path fill="#eceefb" d="M433.2,647.8L820.5,647.8L820.5,754.2L468.5,754.2L468.4,725.9L463.4,725.7L458.4,724.7L440.4,717.5L436.9,716.7L433.4,716.4Z"/>
<path fill="#eef0fc" d="M433.3,647.8L820.5,647.8L820.5,754.2L468.5,754.2L468.4,720.4L458.9,719.6L440.9,714.6L433.4,713.8Z"/>
<path fill="#f1f3fc" d="M433.3,647.8L820.5,647.8L820.5,754.2L468.5,754.2L468.4,715.5L459.4,714.9L441.4,711.4L433.4,710.7Z"/>
<path fill="#f4f5fd" d="M433.3,647.8L820.5,647.8L820.5,754.2L468.5,754.2L468.4,710.9L459.9,710.5L441.9,707.9L433.4,707.4Z"/>
<path fill="#f6f8fd" d="M433.3,647.8L820.5,647.8L820.5,754.2L468.6,754.2L468.4,706.1L459.9,705.8L441.9,703.7L433.4,703.4Z"/>
<path fill="#f9fafe" d="M433.4,647.8L820.5,647.8L820.5,754.2L468.6,754.2L468.4,700.6L460.4,700.4L442.4,698.6L433.4,698.3Z"/>
<path fill="#fcfcfe" d="M433.4,647.8L820.5,647.8L820.5,754.2L468.6,754.2L468.4,694.2L460.4,693.9L442.4,691.8L433.4,691.4Z"/>
<path fill="#feffff" d="M433.4,647.8L820.5,647.8L820.5,754.2L468.6,754.2L468.4,687.3L459.9,686.7L441.4,682.9L433.4,682.4Z"/>
<path fill="#fffefc" d="M433.4,647.8L820.5,647.8L820.5,754.2L468.6,754.2L468.4,682.0L464.4,681.8L460.4,680.9L441.9,673.9L437.4,673.0L433.4,672.8Z"/>
<path fill="#fefcf9" d="M433.4,647.8L820.5,647.8L820.5,754.2L468.6,754.2L468.4,679.3L464.9,679.0L460.9,677.5L447.4,668.9L441.9,666.0L437.4,664.6L433.4,664.2Z"/>
<path fill="#fefbf5" d="M441.3,647.8L820.5,647.8L820.5,754.2L468.7,754.2L468.4,677.3L465.9,677.1L463.1,675.8L455.6,668.8L443.9,654.8L441.8,650.8Z"/>
<path fill="#fef9f2" d="M452.4,647.8L820.5,647.8L820.5,754.2L468.7,754.2L468.5,676.8L465.9,675.6L463.9,673.8L458.2,665.2L453.8,655.8L452.7,651.8Z"/>
<path fill="#fef8ef" d="M458.4,647.8L820.5,647.8L820.5,754.2L468.7,754.2L468.5,676.8L466.9,675.2L465.2,672.8L461.6,664.2L459.2,655.2Z"/>
<path fill="#fdf6eb" d="M463.2,647.8L820.5,647.8L820.5,754.2L468.7,754.2L468.6,676.8L467.5,675.2L464.9,665.2L463.6,656.2Z"/>
<path fill="#fdf5e8" d="M467.4,647.8L820.5,647.8L820.5,754.2L468.7,754.2L468.7,676.8L468.1,675.8L467.6,668.2Z"/>
<path fill="#fdf3e5" d="M471.7,647.8L820.5,647.8L820.5,754.2L468.7,754.2L468.7,676.8L471.2,656.2Z"/>
<path fill="#fcf2e1" d="M476.2,647.8L820.5,647.8L820.5,754.2L468.7,754.2L468.8,676.8L474.8,658.2L475.9,652.8Z"/>
<path fill="#fcf0de" d="M481.9,647.8L820.5,647.8L820.5,754.2L468.7,754.2L468.8,676.8L472.7,671.2L479.1,658.8L481.3,652.8Z"/>
<path fill="#fceedb" d="M491.5,647.8L820.5,647.8L820.5,754.2L468.7,754.2L468.9,676.8L471.3,675.2L473.9,672.8L487.3,656.2L490.7,651.2Z"/>
<path fill="#fbedd7" d="M498.5,647.8L820.5,647.8L820.5,754.2L468.7,754.2L468.9,676.8L470.9,676.6L473.6,675.2L483.9,666.6L489.4,662.9L493.9,661.0L498.4,660.6Z"/>
<path fill="#fbebd4" d="M498.5,647.8L820.5,647.8L820.5,754.2L468.8,754.2L468.9,678.0L471.4,677.8L474.4,676.8L484.4,670.7L489.4,668.2L493.9,667.0L498.4,666.7Z"/>
<path fill="#faead1" d="M498.5,647.8L820.5,647.8L820.5,754.2L468.8,754.2L468.9,679.5L474.4,678.7L489.9,672.3L493.9,671.4L498.4,671.2Z"/>
<path fill="#fae8ce" d="M498.5,647.8L820.5,647.8L820.5,754.2L468.8,754.2L468.9,681.2L474.9,680.5L490.4,675.8L498.4,675.1Z"/>
<path fill="#f9e6ca" d="M498.5,647.8L820.5,647.8L820.5,754.2L468.8,754.2L468.9,683.1L475.4,682.6L490.4,679.2L498.4,678.6Z"/>
<path fill="#f9e5c7" d="M498.5,647.8L820.5,647.8L820.5,754.2L468.8,754.2L468.9,685.2L475.4,684.8L490.9,682.2L498.4,681.9Z"/>
<path fill="#f8e3c4" d="M498.5,647.8L820.5,647.8L820.5,754.2L468.8,754.2L468.9,687.5L475.9,687.2L490.9,685.3L498.4,685.0Z"/>
<path fill="#f8e2c1" d="M498.5,647.8L820.5,647.8L820.5,754.2L468.8,754.2L468.9,689.9L498.4,688.0Z"/>
<path fill="#f7e0bd" d="M498.5,647.8L820.5,647.8L820.5,754.2L468.8,754.2L468.9,692.4L498.4,691.0Z"/>
<path fill="#f7deba" d="M498.5,647.8L820.5,647.8L820.5,754.2L468.8,754.2L468.9,695.1L498.4,694.0Z"/>
<path fill="#f7ddb7" d="M498.6,647.8L820.5,647.8L820.5,754.2L468.8,754.2L468.9,698.5L498.4,697.7Z"/>
<path fill="#f6dbb3" d="M498.6,647.8L820.5,647.8L820.5,754.2L468.9,754.2L468.9,702.3L498.4,701.5Z"/>
<path fill="#f6dab0" d="M498.6,647.8L820.5,647.8L820.5,754.2L468.9,754.2L468.9,706.5L498.4,705.6Z"/>
<path fill="#f5d8ad" d="M498.6,647.8L820.5,647.8L820.5,754.2L468.9,754.2L468.9,711.1L498.4,709.9Z"/>
<path fill="#f5d7a9" d="M498.6,647.8L820.5,647.8L820.5,754.2L468.9,754.2L468.9,716.1L498.4,714.3Z"/>
<path fill="#f5d5a6" d="M498.6,647.8L820.5,647.8L820.5,695.7L820.0,695.7L819.8,696.2L818.3,754.2L468.9,754.2L468.9,721.5L475.9,721.1L490.9,718.9L498.4,718.5Z"/>
<path fill="#f4d3a3" d="M498.6,647.8L820.5,647.8L820.5,695.5L820.0,695.5L817.9,697.8L814.8,706.8L812.2,716.8L808.1,738.2L806.9,754.2L468.9,754.2L468.9,727.3L475.9,726.7L491.4,722.8L498.4,722.2Z"/>
<path fill="#f4d29f" d="M498.7,647.8L820.5,647.8L820.5,695.4L818.0,697.0L815.5,697.5L812.8,699.8L809.5,704.2L805.7,711.2L798.3,727.2L794.0,738.2L791.7,746.8L791.0,754.2L468.9,754.2L468.9,733.9L476.4,732.9L492.1,726.2L495.4,725.4L498.4,725.3Z"/>
<path fill="#f4d09d" d="M498.7,647.8L820.5,647.8L820.5,692.2L814.0,692.7L811.0,693.9L808.0,695.8L802.2,701.2L788.0,719.3L779.0,728.7L774.0,732.6L769.0,735.5L764.5,737.1L760.5,737.4L760.4,754.2L468.9,754.2L468.9,748.3L471.9,747.8L474.9,746.2L479.9,742.2L492.8,730.2L495.9,728.4L498.4,728.2Z"/>
<path fill="#f3ce99" d="M498.7,647.8L820.5,647.8L820.5,683.9L812.5,684.5L805.5,687.3L798.5,692.5L784.5,706.9L777.5,712.7L773.5,715.0L769.0,716.9L765.0,717.9L760.5,718.1L760.4,754.2L488.2,754.2L488.9,748.2L491.2,741.2L495.8,731.8L498.6,728.2Z"/>
<path fill="#f3cc96" d="M498.7,647.8L820.5,647.8L820.5,671.3L812.5,671.9L808.5,673.2L804.5,675.3L796.0,682.1L781.7,697.8L775.6,703.2L772.0,705.7L768.0,707.5L764.5,708.3L760.5,708.6L760.4,754.2L495.8,754.2L496.6,741.8L498.2,729.2L498.8,728.2Z"/>
<path fill="#f2ca93" d="M498.7,647.8L801.2,647.8L801.2,648.2L800.3,653.8L797.2,660.8L783.7,682.2L777.3,691.8L773.0,696.8L769.0,700.1L765.0,702.0L760.5,702.6L760.3,754.2L502.3,754.2L501.3,740.8L499.5,728.8L498.8,727.8Z"/>
<path fill="#f2c890" d="M498.8,647.8L784.4,647.8L784.4,648.2L783.8,655.8L781.8,664.2L778.2,674.8L773.7,685.2L770.2,691.8L767.1,695.8L764.0,698.1L760.5,698.8L760.3,754.2L510.1,754.2L509.3,747.8L506.7,740.2L502.6,732.2L498.9,727.8Z"/>
<path fill="#f2c68d" d="M498.8,647.8L774.8,647.8L774.5,655.2L773.5,663.2L769.3,682.2L767.2,688.8L765.1,693.2L762.8,696.2L760.4,697.8L760.3,754.2L531.0,754.2L531.0,745.9L527.5,745.6L524.0,744.1L519.0,740.5L505.4,729.4L501.9,727.7L498.9,727.4Z"/>
<path fill="#f1c48a" d="M498.8,647.8L766.9,647.8L766.3,665.2L764.7,682.2L762.8,692.2L761.1,696.8L760.3,697.8L760.2,754.2L531.0,754.2L531.0,728.4L523.0,727.7L506.4,723.0L498.9,722.2Z"/>
<path fill="#f1c287" d="M498.8,647.8L759.4,647.8L760.6,686.8L760.2,698.2L760.2,754.2L531.0,754.2L531.0,716.3L498.9,714.1Z"/>
<path fill="#f0c084" d="M498.8,647.8L751.4,647.8L751.9,656.8L753.3,667.2L758.1,691.2L759.4,696.8L760.1,697.8L760.1,754.2L531.0,754.2L531.0,706.1L498.9,705.1Z"/>
<path fill="#f0bf87" d="M498.9,647.8L738.3,647.8L738.6,652.8L739.7,658.2L744.8,672.2L754.1,691.8L757.0,695.8L760.0,697.8L760.1,754.2L531.1,754.2L531.0,696.5L498.9,695.5Z"/>
<path fill="#efbd8b" d="M498.9,647.8L708.9,647.8L709.0,674.8L716.0,675.7L723.5,678.7L731.5,684.0L744.9,695.8L749.5,699.1L755.0,701.7L760.0,702.2L760.0,754.2L531.1,754.2L531.0,687.3L523.0,687.0L506.4,685.3L498.9,685.0Z"/>
<path fill="#efbc8e" d="M498.9,647.8L708.9,647.8L709.0,698.9L715.5,699.6L722.0,701.9L727.5,705.1L740.5,713.9L747.5,717.4L754.0,719.3L760.0,719.7L760.0,754.2L531.2,754.2L531.0,679.4L523.5,678.6L506.9,673.8L498.9,673.1Z"/>
<path fill="#efbb92" d="M510.5,647.8L708.8,647.8L709.0,709.2L712.5,709.9L715.8,712.2L719.7,716.8L724.3,723.8L730.4,734.2L734.2,742.2L736.2,748.8L736.8,754.2L531.2,754.2L531.0,673.2L528.5,673.0L526.3,671.8L523.0,668.8L518.7,663.8L512.2,654.2L510.9,650.8Z"/>
<path fill="#efba95" d="M533.6,647.8L708.7,647.8L708.8,710.2L710.8,713.2L712.1,716.2L714.9,726.8L717.4,741.8L718.1,754.2L531.2,754.2L531.2,673.8L533.2,655.8Z"/>
<path fill="#eeb999" d="M558.5,647.8L708.7,647.8L708.7,710.2L705.8,741.2L705.2,754.2L531.3,754.2L531.5,674.3L534.0,674.2L536.5,673.4L550.5,665.9L554.5,664.8L558.5,664.6Z"/>
<path fill="#eeb99c" d="M558.5,647.8L708.6,647.8L708.5,710.2L705.3,712.2L702.6,715.8L691.6,734.8L686.7,745.8L685.6,750.2L685.3,754.2L531.3,754.2L531.5,683.1L558.5,681.1Z"/>
<path fill="#eeb8a0" d="M558.6,647.8L708.5,647.8L708.5,700.1L703.5,700.3L698.0,701.6L681.0,708.4L675.0,710.4L669.5,711.5L664.0,711.8L663.9,754.2L531.3,754.2L531.5,694.8L558.5,694.3Z"/>
<path fill="#eeb9a4" d="M558.6,647.8L708.5,647.8L708.5,672.1L702.5,672.5L696.5,674.5L690.0,677.9L673.5,688.6L668.5,690.6L664.0,691.0L663.8,754.2L531.4,754.2L531.5,706.1L558.5,705.6Z"/>
<path fill="#efb9a7" d="M558.6,647.8L680.2,647.8L679.9,652.8L678.9,657.8L674.7,669.8L668.7,681.8L666.7,684.2L663.9,686.2L663.8,754.2L531.4,754.2L531.5,716.9L558.5,715.5Z"/>
<path fill="#efbaab" d="M558.7,647.8L663.3,647.8L663.8,676.2L663.8,754.2L531.4,754.2L531.5,729.5L538.5,729.0L552.5,724.9L558.5,724.3Z"/>
<path fill="#efbbae" d="M558.7,647.8L645.9,647.8L646.9,655.2L650.3,664.2L659.1,681.2L661.2,684.2L663.5,686.2L663.7,754.2L535.4,754.2L535.7,752.8L537.3,750.2L552.5,732.8L555.6,729.8L558.5,728.2Z"/>
<path fill="#f0bbb2" d="M558.7,647.8L624.4,647.8L624.5,669.9L630.0,670.4L636.0,672.5L642.5,676.3L656.5,686.2L660.0,687.7L663.5,688.0L663.7,754.2L555.3,754.2L556.1,743.8L558.0,729.2L558.7,728.2Z"/>
<path fill="#f0bcb6" d="M558.8,647.8L624.4,647.8L624.5,683.9L629.5,684.1L634.5,685.0L655.0,692.0L659.5,692.9L663.5,693.0L663.6,754.2L566.0,754.2L565.5,748.2L564.1,741.8L561.3,733.2L558.8,728.2Z"/>
<path fill="#f0bcb9" d="M558.8,647.8L624.3,647.8L624.5,695.2L633.5,695.8L653.5,699.9L663.5,700.7L663.6,754.2L588.5,754.2L588.5,740.5L584.5,740.2L580.5,738.9L575.5,736.1L564.5,728.5L561.5,727.3L559.0,727.1Z"/>
<path fill="#f0bdbd" d="M558.8,647.8L624.2,647.8L624.5,707.0L634.0,707.8L654.0,712.2L663.5,712.8L663.5,754.2L588.7,754.2L588.5,721.1L581.0,720.8L566.0,718.6L559.0,718.2Z"/>
<path fill="#f1bdc1" d="M558.9,647.8L624.1,647.8L624.5,718.4L628.0,718.8L632.3,720.8L647.0,731.5L653.0,735.1L658.5,737.2L663.5,737.6L663.5,754.2L588.8,754.2L588.5,705.5L559.0,704.7Z"/>
<path fill="#f1bec4" d="M558.9,647.8L624.0,647.8L624.0,716.9L620.5,717.0L617.0,717.9L604.0,723.5L598.5,725.4L593.5,726.4L589.0,726.5L588.5,690.8L558.9,689.2Z"/>
</g>
<path d="M297.0,754.5V696.3M348.4,647.5V711.7M393.8,754.5V684.8M433.1,647.5V721.8M468.4,754.5V675.7M498.7,647.5V729.7M531.2,754.5V672.2M558.3,647.5V729.7M588.7,754.5V675.7M623.8,647.5V721.8M663.3,754.5V684.8M708.4,647.5V711.7M759.8,754.5V696.4" stroke="#fff" stroke-width="2.9" fill="none"/>
<clipPath id="clip2"><path d="M36.3,822.9 L613.5,822.9 L613.5,873.1 L616.4,873.1 L616.4,928.9 L33.4,928.9 L33.4,873.1 L36.3,873.1Z"/></clipPath>
<g clip-path="url(#clip2)">
<rect x="32.4" y="821.9" width="585.0" height="108.0" fill="#675bf0"/>
<path fill="#6a5ef0" d="M33.1,822.6L616.6,822.6L616.6,929.1L38.6,929.1L38.2,913.1L36.5,891.6L34.5,871.1L33.6,870.1L33.1,870.1Z"/>
<path fill="#6c61f0" d="M33.1,822.6L505.1,822.6L505.1,849.1L512.1,849.9L519.6,853.0L527.6,858.4L545.5,873.6L550.6,876.2L556.1,876.9L556.6,887.0L560.6,886.8L564.6,885.8L568.6,884.2L572.6,881.8L579.1,876.2L593.1,861.7L600.6,856.1L608.1,853.0L611.6,852.4L616.6,852.4L616.6,929.1L53.7,929.1L53.2,921.6L51.7,913.1L45.1,890.6L41.9,882.1L39.2,876.6L36.4,872.6L33.6,869.9L33.1,869.9Z"/>
<path fill="#6f63f0" d="M33.1,822.6L505.1,822.6L505.1,860.7L512.1,861.3L518.6,863.4L525.6,867.1L538.8,876.1L544.0,879.1L550.1,881.3L556.1,881.9L556.6,901.6L561.1,901.2L565.6,900.1L570.1,898.0L574.6,895.1L582.6,888.0L596.9,872.1L603.1,867.1L609.6,864.3L616.6,863.9L616.6,929.1L74.2,929.1L73.4,923.1L70.3,915.6L48.7,880.1L44.8,875.1L41.1,871.9L38.1,870.5L34.6,870.3L33.1,869.7Z"/>
<path fill="#7166f0" d="M33.1,822.6L505.1,822.6L505.1,867.2L511.1,867.7L517.1,869.4L524.1,872.8L536.6,880.7L542.6,883.9L549.6,886.2L556.1,886.8L556.6,929.1L93.2,929.1L93.2,904.1L89.2,903.9L85.2,903.1L81.2,901.4L77.2,899.1L68.2,891.7L53.7,875.1L47.8,869.6L44.1,867.3L40.6,865.9L37.6,865.3L33.1,865.2ZM611.1,869.6L616.6,869.3L616.6,929.1L569.5,929.1L570.4,924.1L573.1,918.6L598.6,881.1L605.3,873.1L608.1,871.0Z"/>
<path fill="#7469f0" d="M33.1,822.6L505.1,822.6L505.1,872.0L511.6,872.6L518.1,874.8L524.1,878.1L537.1,886.6L543.6,889.8L549.6,891.6L556.1,892.1L556.5,929.1L93.2,929.1L93.2,891.7L88.7,891.5L84.7,890.7L80.2,888.9L76.2,886.6L69.2,880.9L55.1,866.7L48.1,861.5L41.1,858.7L33.1,858.2ZM615.8,870.6L616.6,870.3L616.6,929.1L589.3,929.1L590.0,921.6L591.9,913.6L595.4,903.6L601.8,888.6L605.4,881.1L608.9,875.6L611.3,873.1L614.1,872.2Z"/>
<path fill="#766bf0" d="M33.1,822.6L505.1,822.6L505.1,875.8L511.1,876.5L517.6,879.0L522.8,882.1L535.6,891.5L543.1,895.6L549.6,897.7L556.1,898.2L556.4,929.1L93.2,929.1L93.2,884.0L89.2,883.8L85.2,882.9L81.7,881.4L77.7,878.9L71.6,873.6L57.7,858.6L49.1,852.0L41.6,848.8L38.1,848.2L33.1,848.1ZM615.9,870.6L616.6,870.5L616.6,929.1L601.2,929.1L602.4,914.1L606.6,894.6L611.3,878.6L613.6,873.1Z"/>
<path fill="#796eef" d="M41.3,822.6L505.1,822.6L505.1,879.0L511.1,879.9L516.8,882.6L521.6,886.1L535.1,897.8L542.6,902.8L549.6,905.6L556.1,906.2L556.3,929.1L93.2,929.1L93.2,878.6L89.2,878.4L85.2,877.0L81.2,874.4L77.1,870.6L59.1,846.9L43.9,828.6L41.8,825.1ZM616.1,870.6L616.6,870.6L616.6,929.1L613.4,929.1L614.2,900.1L615.8,871.1Z"/>
<path fill="#7b71ef" d="M63.3,822.6L505.0,822.6L505.1,881.7L510.1,882.5L515.1,885.5L520.6,890.6L535.6,907.4L543.6,915.1L550.6,920.0L553.1,920.9L556.1,921.1L556.2,929.1L93.3,929.1L93.2,874.9L89.2,874.4L85.4,872.1L81.7,868.1L77.5,861.6L70.9,848.6L66.3,837.6L64.0,829.6Z"/>
<path fill="#7e73ef" d="M74.4,822.6L505.0,822.6L505.1,884.0L508.6,884.6L512.3,887.1L516.2,891.6L520.7,898.1L527.0,908.6L531.0,916.6L533.2,923.1L533.9,929.1L93.3,929.1L93.2,872.6L90.2,872.0L87.6,869.6L84.8,865.1L82.2,859.1L78.9,849.1L76.2,838.6L74.8,830.1Z"/>
<path fill="#8076ef" d="M83.2,822.6L505.0,822.6L505.1,885.1L508.1,886.6L510.4,889.1L513.3,894.1L516.5,901.1L521.7,916.6L522.9,923.1L523.3,929.1L93.3,929.1L93.2,872.6L91.1,870.6L89.7,868.1L86.9,858.1L84.1,839.6Z"/>
<path fill="#8379ef" d="M91.0,822.6L505.0,822.6L505.1,885.1L507.0,887.6L508.5,890.6L511.7,901.6L514.5,916.6L515.4,929.1L93.3,929.1L93.3,872.6L92.6,871.6L91.9,868.1L91.2,859.6Z"/>
<path fill="#857bef" d="M98.5,822.6L505.0,822.6L505.0,885.1L506.5,891.6L507.4,900.1L508.4,929.1L93.4,929.1L93.5,871.1L97.7,838.1Z"/>
<path fill="#887eef" d="M106.4,822.6L505.0,822.6L504.9,885.1L502.3,916.6L501.9,929.1L93.4,929.1L93.5,872.6L94.3,871.6L97.4,863.6L103.3,843.6L105.7,832.1Z"/>
<path fill="#8a81ef" d="M117.5,822.6L504.9,822.6L504.8,885.1L503.6,886.6L502.1,891.1L496.4,910.6L494.4,920.6L493.8,929.1L93.4,929.1L93.6,872.6L96.7,870.6L99.8,866.6L110.6,846.1L115.9,833.1L117.1,827.6Z"/>
<path fill="#8d84ef" d="M140.6,822.6L504.9,822.6L504.7,885.1L502.0,887.1L499.5,890.6L489.4,910.1L485.3,920.6L484.4,925.1L484.1,929.1L93.4,929.1L93.7,873.8L96.2,873.5L98.2,872.6L103.4,868.1L120.7,846.7L138.3,827.1L140.1,824.6Z"/>
<path fill="#8f86ef" d="M144.7,822.6L504.9,822.6L504.7,885.1L502.6,885.2L500.6,886.1L495.5,891.1L471.1,921.1L468.4,925.6L467.6,929.1L93.5,929.1L93.7,876.6L98.7,875.9L103.8,873.1L121.2,857.9L129.7,851.9L137.2,848.8L144.7,847.9Z"/>
<path fill="#9189ef" d="M144.7,822.6L504.9,822.6L504.6,883.5L500.6,884.0L496.6,886.1L481.1,899.5L473.1,905.1L466.6,907.9L460.1,908.8L460.1,929.1L93.5,929.1L93.6,880.3L99.2,879.7L105.2,877.4L110.3,874.1L123.2,864.8L130.7,860.7L137.7,858.4L144.7,857.9Z"/>
<path fill="#948cf0" d="M144.7,822.6L504.9,822.6L504.6,881.4L500.1,881.8L495.6,883.6L479.6,894.0L472.6,897.6L466.1,899.6L460.1,900.1L460.1,929.1L93.5,929.1L93.7,884.9L99.7,884.3L106.2,882.1L111.7,879.1L124.7,870.8L131.7,867.3L138.2,865.5L144.7,865.0Z"/>
<path fill="#968ff0" d="M144.7,822.6L504.8,822.6L504.7,879.0L500.1,879.2L495.1,880.7L478.6,889.1L472.1,891.8L466.1,893.3L460.1,893.8L460.1,929.1L93.6,929.1L93.6,890.2L100.2,889.6L107.2,887.3L113.2,884.2L126.2,875.8L132.7,872.7L138.7,871.0L144.7,870.6Z"/>
<path fill="#9892f0" d="M144.7,822.6L504.8,822.6L504.6,876.2L499.6,876.4L494.1,877.8L477.6,884.9L471.6,887.0L465.6,888.2L460.1,888.5L460.1,929.1L93.6,929.1L93.7,896.5L99.7,896.0L106.2,894.0L113.2,890.3L126.2,881.1L131.7,877.9L138.2,875.5L144.7,874.9Z"/>
<path fill="#9b95f0" d="M144.7,822.6L504.8,822.6L504.6,873.0L499.1,873.3L493.6,874.5L476.6,880.9L470.6,882.7L465.1,883.7L460.1,883.9L460.1,929.1L93.6,929.1L93.6,904.3L100.2,903.5L106.7,901.0L114.2,896.3L127.2,885.5L132.7,881.7L138.7,879.0L144.7,878.4Z"/>
<path fill="#9d97f0" d="M144.7,822.6L504.8,822.6L504.6,869.5L499.6,869.7L494.6,870.5L472.1,878.2L466.1,879.5L460.1,879.8L460.1,929.1L93.6,929.1L93.7,915.6L99.2,914.8L105.2,911.6L113.7,904.7L128.3,889.6L133.3,885.1L139.2,881.8L144.7,881.1Z"/>
<path fill="#9f9af0" d="M144.8,822.6L504.8,822.6L504.6,865.5L499.1,865.7L494.1,866.6L471.6,874.4L465.6,875.7L460.1,876.0L460.1,929.1L110.0,929.1L110.8,923.6L113.6,917.1L118.9,908.6L128.8,894.6L133.3,889.1L137.2,885.6L141.2,883.5L144.7,883.2Z"/>
<path fill="#a29df0" d="M144.8,822.6L504.7,822.6L504.6,860.7L499.1,860.9L493.6,862.0L487.6,863.9L470.6,870.8L465.1,872.1L460.1,872.4L460.1,929.1L120.2,929.1L120.8,923.1L122.5,916.6L125.7,908.6L130.8,898.6L135.0,891.6L138.2,887.6L141.6,885.1L144.7,884.8Z"/>
<path fill="#a4a0f0" d="M144.8,822.6L504.7,822.6L504.6,854.2L499.1,854.5L493.1,855.9L486.6,858.6L470.1,866.9L465.1,868.3L460.1,868.7L460.0,929.1L127.8,929.1L128.1,923.1L129.3,916.1L134.3,900.1L137.3,893.1L139.9,888.6L141.7,886.6L144.7,885.1Z"/>
<path fill="#a6a3f1" d="M144.8,822.6L504.7,822.6L504.6,846.2L498.6,846.7L492.6,848.7L485.6,852.5L469.6,863.2L464.6,865.2L460.1,865.7L460.0,929.1L133.6,929.1L134.5,916.1L137.7,900.1L141.2,889.6L142.6,887.1L144.7,885.1Z"/>
<path fill="#a9a5f1" d="M144.8,822.6L504.7,822.6L504.6,833.7L499.6,834.4L494.1,837.2L486.6,843.2L469.3,859.6L464.6,862.5L460.1,863.3L460.0,929.1L138.6,929.1L139.2,914.6L140.8,899.1L142.6,889.6L143.6,886.6L144.8,885.1Z"/>
<path fill="#aba8f1" d="M144.8,822.6L486.2,822.6L486.2,823.1L485.4,828.1L483.6,833.1L480.3,839.1L474.9,847.6L469.8,854.6L466.3,858.6L463.1,861.0L460.1,861.5L460.0,929.1L143.3,929.1L143.4,896.6L144.2,886.1L144.8,885.1Z"/>
<path fill="#adabf1" d="M144.8,822.6L477.0,822.6L476.7,827.6L475.7,832.6L471.3,844.6L465.1,856.6L462.5,859.6L460.1,861.1L460.0,929.1L147.9,929.1L147.4,916.6L144.8,886.6Z"/>
<path fill="#b0aef2" d="M144.9,822.6L470.5,822.6L469.7,832.6L467.0,844.6L463.4,855.6L460.0,861.1L460.0,929.1L152.6,929.1L152.2,921.6L151.1,913.1L145.0,885.1Z"/>
<path fill="#b2b1f2" d="M144.9,822.6L464.9,822.6L464.5,833.1L463.3,845.1L461.8,854.6L460.0,861.1L460.0,929.1L157.6,929.1L157.0,921.1L154.9,911.6L148.9,893.6L145.0,885.1Z"/>
<path fill="#b5b4f2" d="M144.9,822.6L459.7,822.6L460.1,850.1L459.9,929.1L163.5,929.1L162.5,920.6L159.0,910.6L150.0,891.6L147.5,887.6L145.1,885.1Z"/>
<path fill="#b7b6f2" d="M144.9,822.6L454.3,822.6L455.5,837.1L459.2,860.1L459.9,861.1L459.9,929.1L171.2,929.1L170.9,925.1L169.7,921.1L164.4,910.6L151.2,890.1L148.0,886.6L145.1,885.1Z"/>
<path fill="#b9b9f3" d="M144.9,822.6L448.3,822.6L449.0,830.1L451.0,838.6L456.8,855.6L458.5,859.6L459.8,861.1L459.9,929.1L190.2,929.1L190.2,925.3L186.7,924.7L182.2,921.2L169.7,908.6L152.4,888.6L148.6,885.6L145.2,884.8Z"/>
<path fill="#bcbcf3" d="M144.9,822.6L440.8,822.6L441.8,829.6L445.4,838.6L455.0,856.1L457.2,859.1L459.7,861.1L459.9,929.1L190.2,929.1L190.2,910.8L183.7,910.1L176.7,906.8L168.7,900.9L153.0,886.6L148.7,884.2L145.2,883.7Z"/>
<path fill="#bebff3" d="M144.9,822.6L426.0,822.6L426.5,825.1L428.7,828.6L451.6,855.6L456.1,860.0L459.7,861.1L459.9,929.1L190.2,929.1L190.2,903.8L183.7,903.2L176.7,900.7L169.2,896.2L153.4,884.6L149.2,882.7L145.2,882.2Z"/>
<path fill="#c1c1f4" d="M145.0,822.6L420.6,822.6L420.6,841.3L426.1,842.0L432.1,844.4L439.1,849.0L452.9,860.1L456.1,861.8L459.6,862.2L459.9,929.1L190.2,929.1L190.2,898.4L183.7,897.9L177.2,896.0L170.2,892.6L154.2,882.8L149.7,881.1L145.2,880.6Z"/>
<path fill="#c3c4f4" d="M145.0,822.6L420.6,822.6L420.6,849.5L426.1,849.9L431.6,851.5L438.1,854.5L452.1,862.6L456.1,863.9L459.6,864.1L459.9,929.1L190.2,929.1L190.2,893.8L184.2,893.5L177.7,891.9L170.7,889.0L154.7,880.6L149.7,879.1L145.2,878.8Z"/>
<path fill="#c5c7f4" d="M145.0,822.6L420.6,822.6L420.6,855.7L425.6,856.0L431.1,857.1L437.1,859.2L451.1,865.2L455.6,866.3L459.6,866.5L459.8,929.1L190.2,929.1L190.2,889.8L184.2,889.5L178.2,888.2L171.7,885.8L155.2,878.4L150.2,877.1L145.2,876.7Z"/>
<path fill="#c8caf5" d="M145.0,822.6L420.6,822.6L420.6,861.0L430.6,862.0L450.6,868.1L455.1,869.0L459.6,869.2L459.8,929.1L190.2,929.1L190.2,886.2L184.7,885.9L178.7,884.8L172.7,882.8L155.7,876.0L150.2,874.7L145.2,874.4Z"/>
<path fill="#caccf5" d="M145.0,822.6L420.6,822.6L420.6,865.6L430.1,866.4L450.1,871.2L459.6,872.1L459.8,929.1L190.2,929.1L190.2,882.8L184.7,882.5L179.2,881.5L173.2,879.7L156.2,873.3L150.7,872.1L145.2,871.8Z"/>
<path fill="#cdcff6" d="M145.0,822.6L420.6,822.6L420.6,869.7L429.6,870.3L449.6,874.4L459.6,875.2L459.8,929.1L190.2,929.1L190.2,879.5L184.7,879.3L179.7,878.4L156.7,870.5L150.7,869.2L145.2,868.9Z"/>
<path fill="#cfd2f6" d="M145.1,822.6L420.6,822.6L420.6,873.3L430.6,874.0L451.1,877.8L459.6,878.3L459.8,929.1L190.2,929.1L190.2,876.5L185.2,876.3L180.2,875.4L157.2,867.3L151.2,866.0L145.2,865.7Z"/>
<path fill="#d2d4f6" d="M145.1,822.6L420.6,822.6L420.6,876.5L430.6,877.2L450.6,881.0L459.6,881.5L459.8,929.1L190.3,929.1L190.2,873.6L184.7,873.3L178.7,872.0L161.7,865.2L155.7,863.3L150.2,862.3L145.2,862.0Z"/>
<path fill="#d4d7f7" d="M145.1,822.6L420.6,822.6L420.6,879.6L430.1,880.3L450.6,884.3L459.6,884.9L459.8,929.1L190.3,929.1L190.2,870.9L184.7,870.5L179.2,869.1L162.2,861.5L156.2,859.4L150.7,858.2L145.2,857.8Z"/>
<path fill="#d7d9f7" d="M145.1,822.6L420.6,822.6L420.6,882.4L430.1,883.3L450.1,887.8L459.6,888.4L459.7,929.1L190.3,929.1L190.2,868.4L185.2,868.1L179.7,866.4L162.7,857.5L156.2,854.8L150.7,853.4L145.2,853.0Z"/>
<path fill="#d9dcf8" d="M145.1,822.6L420.5,822.6L420.6,885.1L429.6,886.0L450.1,891.4L459.6,892.1L459.7,929.1L190.3,929.1L190.2,866.2L185.2,865.8L180.2,863.9L163.2,852.9L156.7,849.5L150.7,847.6L145.2,847.2Z"/>
<path fill="#dcdff8" d="M145.1,822.6L420.5,822.6L420.6,887.4L425.1,887.7L429.6,888.6L449.6,895.1L454.6,895.9L459.6,896.1L459.7,929.1L190.3,929.1L190.2,864.3L185.7,863.8L180.7,861.5L163.7,847.5L156.2,842.4L150.7,840.1L145.2,839.4Z"/>
<path fill="#dee1f9" d="M152.3,822.6L420.5,822.6L420.6,889.6L424.6,889.8L429.1,891.0L443.6,897.2L449.6,899.2L454.6,900.2L459.6,900.5L459.7,929.1L190.3,929.1L190.2,862.7L187.2,862.5L184.2,861.2L180.7,858.6L177.1,855.1L155.9,830.6L153.0,826.1Z"/>
<path fill="#e1e4f9" d="M164.6,822.6L420.5,822.6L420.6,891.4L424.6,891.8L428.8,893.1L443.1,901.0L449.1,903.6L454.6,905.1L459.6,905.3L459.7,929.1L190.3,929.1L190.2,861.5L187.2,861.1L184.2,859.1L180.5,855.1L175.6,848.1L170.3,839.6L167.0,833.1L165.2,827.6Z"/>
<path fill="#e4e6fa" d="M174.2,822.6L420.5,822.6L420.6,893.7L424.1,894.2L428.2,896.1L443.1,908.0L449.6,912.3L454.6,914.4L459.6,914.9L459.7,929.1L190.3,929.1L190.2,861.1L187.6,859.6L185.4,857.1L179.9,846.1L175.5,833.1L174.5,827.6Z"/>
<path fill="#e6e9fa" d="M181.7,822.6L420.5,822.6L420.6,895.5L423.1,895.8L426.5,898.1L430.2,902.1L436.1,909.6L443.6,921.1L445.1,925.1L445.7,929.1L190.3,929.1L190.3,861.1L188.9,859.6L187.5,856.6L184.8,847.1L182.5,834.1Z"/>
<path fill="#e9ebfb" d="M188.4,822.6L420.5,822.6L420.6,895.6L423.3,897.6L425.3,900.1L431.0,910.6L434.8,920.6L435.7,925.1L436.0,929.1L190.4,929.1L190.4,861.1L189.6,860.1L188.8,850.1Z"/>
<path fill="#eceefb" d="M195.1,822.6L420.5,822.6L420.5,895.6L423.9,901.6L427.0,911.1L429.2,920.6L429.9,929.1L190.4,929.1L190.4,861.1L194.4,834.1Z"/>
<path fill="#eef0fc" d="M203.0,822.6L420.4,822.6L420.5,895.6L422.3,902.6L423.6,911.1L424.6,920.6L424.9,929.1L190.4,929.1L190.5,861.1L194.4,853.1L200.3,837.1L202.4,829.1Z"/>
<path fill="#f1f3fc" d="M215.0,822.6L420.4,822.6L420.4,929.1L190.4,929.1L190.6,861.1L193.5,859.1L196.1,856.1L209.9,836.1L213.8,828.6Z"/>
<path fill="#f4f5fd" d="M229.2,822.6L420.4,822.6L420.3,895.6L419.7,896.6L416.8,915.6L415.8,929.1L190.4,929.1L190.7,862.0L193.7,861.5L196.7,859.9L210.2,848.6L217.2,843.8L223.2,841.3L229.2,840.6Z"/>
<path fill="#f6f8fd" d="M229.2,822.6L420.4,822.6L420.3,895.6L419.0,897.1L417.9,900.1L413.0,914.6L411.1,922.6L410.6,929.1L190.4,929.1L190.7,864.7L194.2,864.4L198.1,863.1L211.7,856.1L218.2,853.4L223.7,852.0L229.1,851.7Z"/>
<path fill="#f9fafe" d="M229.2,822.6L420.4,822.6L420.2,895.6L417.8,897.6L415.9,900.1L407.9,914.6L404.6,922.6L403.6,929.1L190.5,929.1L190.7,868.1L194.7,867.9L199.2,867.0L218.7,860.6L223.7,859.7L229.2,859.5Z"/>
<path fill="#fcfcfe" d="M229.2,822.6L420.4,822.6L420.2,895.6L417.1,896.4L414.7,898.1L400.6,913.2L393.1,920.1L388.6,922.8L385.1,923.3L385.1,929.1L190.5,929.1L190.7,871.7L199.7,870.8L219.7,866.0L229.2,865.3Z"/>
<path fill="#feffff" d="M229.2,822.6L420.4,822.6L420.1,894.2L417.1,894.4L413.9,895.6L401.1,904.1L395.1,907.3L390.1,908.9L385.1,909.2L385.1,929.1L190.5,929.1L190.7,875.1L200.2,874.3L219.7,870.3L229.2,869.7Z"/>
<path fill="#fffefc" d="M229.2,822.6L420.3,822.6L420.1,892.1L416.6,892.3L413.1,893.2L400.1,899.1L394.6,901.0L390.1,902.0L385.1,902.3L385.1,929.1L190.5,929.1L190.7,877.7L200.2,877.0L220.2,873.3L229.2,872.8Z"/>
<path fill="#fefcf9" d="M229.2,822.6L420.3,822.6L420.1,890.3L412.6,891.2L394.6,897.1L390.1,897.8L385.1,898.0L385.1,929.1L190.5,929.1L190.7,879.5L200.2,878.9L220.2,875.3L229.2,874.8Z"/>
<path fill="#fefbf5" d="M229.2,822.6L420.3,822.6L420.1,888.2L412.1,888.9L394.1,893.5L385.1,894.2L385.1,929.1L190.5,929.1L190.7,881.3L200.7,880.6L220.2,877.1L229.2,876.5Z"/>
<path fill="#fef9f2" d="M229.2,822.6L420.3,822.6L420.1,885.9L412.1,886.5L393.6,890.1L385.1,890.6L385.1,929.1L190.5,929.1L190.7,883.1L200.7,882.4L220.7,878.7L229.2,878.2Z"/>
<path fill="#fef8ef" d="M229.3,822.6L420.3,822.6L420.1,883.5L411.6,884.0L393.6,886.8L385.1,887.2L385.1,929.1L190.5,929.1L190.7,884.9L200.7,884.2L220.7,880.3L229.2,879.8Z"/>
<path fill="#fdf6eb" d="M229.3,822.6L420.3,822.6L420.1,881.1L411.6,881.4L393.1,883.8L385.1,884.1L385.1,929.1L190.5,929.1L190.7,886.7L200.7,885.9L220.7,881.8L229.2,881.3Z"/>
<path fill="#fdf5e8" d="M229.3,822.6L420.3,822.6L420.1,878.6L411.1,879.0L393.1,881.0L385.1,881.2L385.1,929.1L190.6,929.1L190.7,888.6L199.7,887.9L219.7,883.5L229.2,882.7Z"/>
<path fill="#fdf3e5" d="M229.3,822.6L420.3,822.6L420.1,876.2L411.1,876.6L393.1,878.3L385.1,878.6L385.1,929.1L190.6,929.1L190.7,890.4L199.7,889.7L219.7,884.9L229.2,884.1Z"/>
<path fill="#fcf2e1" d="M229.3,822.6L420.3,822.6L420.1,873.9L385.1,876.2L385.1,929.1L190.6,929.1L190.7,892.4L199.7,891.6L219.7,886.4L229.2,885.4Z"/>
<path fill="#fcf0de" d="M229.3,822.6L420.3,822.6L420.1,871.6L385.1,873.8L385.1,929.1L190.6,929.1L190.7,894.5L200.2,893.5L220.1,887.6L224.7,886.9L229.2,886.7Z"/>
<path fill="#fceedb" d="M229.3,822.6L420.3,822.6L420.1,869.3L385.1,871.7L385.0,929.1L190.6,929.1L190.7,896.5L200.2,895.5L220.2,888.9L224.7,888.1L229.2,887.9Z"/>
<path fill="#fbedd7" d="M229.3,822.6L420.2,822.6L420.1,867.1L412.1,867.3L394.1,869.3L385.1,869.6L385.0,929.1L190.6,929.1L190.7,898.7L195.2,898.5L200.2,897.5L220.3,890.1L224.7,889.2L229.2,889.0Z"/>
<path fill="#fbebd4" d="M229.3,822.6L420.2,822.6L420.1,864.8L412.1,865.1L394.1,867.3L385.1,867.7L385.0,929.1L190.6,929.1L190.7,901.0L195.2,900.7L200.1,899.7L205.7,897.8L220.7,891.3L225.1,890.2L229.2,890.0Z"/>
<path fill="#faead1" d="M229.3,822.6L420.2,822.6L420.2,862.5L412.1,862.9L393.6,865.4L385.1,865.8L385.0,929.1L190.6,929.1L190.7,903.5L195.7,903.2L200.7,901.9L206.2,899.7L220.7,892.5L225.2,891.2L229.2,891.0Z"/>
<path fill="#fae8ce" d="M229.3,822.6L420.2,822.6L420.1,860.2L411.6,860.6L393.6,863.5L385.1,864.0L385.0,929.1L190.6,929.1L190.7,906.4L195.7,906.0L200.7,904.6L206.7,901.8L220.9,893.6L225.2,892.2L229.2,892.0Z"/>
<path fill="#f9e6ca" d="M229.3,822.6L420.2,822.6L420.1,857.8L411.6,858.3L393.6,861.7L385.1,862.3L385.0,929.1L190.6,929.1L190.7,909.7L195.7,909.3L200.7,907.6L206.7,904.4L221.2,894.8L225.1,893.2L229.2,892.9Z"/>
<path fill="#f9e5c7" d="M229.3,822.6L420.2,822.6L420.1,855.3L411.6,855.9L393.6,860.0L385.1,860.7L385.0,929.1L190.6,929.1L190.7,914.0L195.2,913.5L200.2,911.6L206.7,907.4L221.1,896.1L225.2,894.2L229.2,893.7Z"/>
<path fill="#f8e3c4" d="M229.3,822.6L420.2,822.6L420.1,852.7L411.6,853.4L393.1,858.4L385.1,859.1L385.0,929.1L190.6,929.1L190.7,920.4L194.7,919.8L198.7,917.7L205.2,912.6L221.7,897.1L225.7,894.9L229.2,894.6Z"/>
<path fill="#f8e2c1" d="M229.4,822.6L420.2,822.6L420.1,849.9L411.1,850.8L393.1,856.8L389.1,857.5L385.1,857.7L385.0,929.1L200.7,929.1L201.3,925.6L203.5,921.1L215.4,905.6L223.6,897.1L226.2,895.6L229.2,895.3Z"/>
<path fill="#f7e0bd" d="M229.4,822.6L420.2,822.6L420.1,847.0L415.6,847.1L411.1,848.0L393.1,855.2L389.1,856.2L385.1,856.4L385.0,929.1L207.4,929.1L207.8,925.1L209.3,920.6L215.4,909.6L223.5,898.6L226.2,896.5L229.2,895.6Z"/>
<path fill="#f7deba" d="M229.4,822.6L420.2,822.6L420.1,843.6L415.6,843.9L411.1,845.0L406.1,847.0L392.6,853.8L388.6,855.0L385.1,855.2L385.0,929.1L212.4,929.1L212.7,925.1L213.7,920.6L218.1,910.1L224.6,899.1L226.5,897.1L229.2,895.6Z"/>
<path fill="#f7ddb7" d="M229.4,822.6L420.2,822.6L420.1,838.7L415.6,839.0L411.1,840.5L405.6,843.5L392.3,852.1L388.6,853.6L385.1,853.8L385.0,929.1L217.8,929.1L218.6,920.6L221.5,910.1L225.9,899.6L227.6,897.1L229.3,895.6Z"/>
<path fill="#f6dbb3" d="M229.4,822.6L420.2,822.6L420.1,831.0L416.6,831.3L412.6,833.2L407.1,837.2L392.4,850.1L388.6,852.2L385.1,852.6L385.0,929.1L222.9,929.1L223.4,920.1L225.0,909.6L227.4,899.6L228.1,897.1L229.3,895.6Z"/>
<path fill="#f6dab0" d="M229.4,822.6L408.1,822.6L407.7,826.1L406.2,829.6L399.4,839.6L391.1,849.1L388.3,851.1L385.6,851.6L385.1,852.1L385.0,929.1L227.8,929.1L228.3,905.6L228.8,896.6L229.4,895.6Z"/>
<path fill="#f5d8ad" d="M229.4,822.6L401.7,822.6L400.6,829.6L396.4,838.6L390.1,848.1L388.1,850.1L385.1,852.1L384.9,929.1L232.8,929.1L232.2,918.1L229.4,895.6Z"/>
<path fill="#f5d7a9" d="M229.4,822.6L397.4,822.6L396.6,829.6L393.7,838.1L389.3,847.1L385.0,852.1L384.9,929.1L238.0,929.1L237.5,922.6L236.1,915.6L232.4,903.1L229.5,895.6Z"/>
<path fill="#f5d5a6" d="M229.4,822.6L393.9,822.6L393.3,829.6L391.3,838.1L388.2,846.6L386.3,850.6L385.0,852.1L384.9,929.1L243.8,929.1L243.0,922.6L240.4,915.1L233.8,901.6L229.5,895.6Z"/>
<path fill="#f4d3a3" d="M229.4,822.6L390.8,822.6L390.4,830.1L389.1,838.6L386.1,850.6L385.0,852.1L384.9,929.1L251.1,929.1L250.8,926.1L249.9,923.1L245.8,915.6L234.9,900.1L232.0,897.1L229.6,895.6Z"/>
<path fill="#f4d29f" d="M229.4,822.6L387.9,822.6L387.0,840.1L385.6,851.1L384.9,852.1L384.9,929.1L264.7,929.1L264.7,921.1L260.1,920.5L255.7,917.8L248.7,911.8L235.2,898.1L232.2,896.1L229.6,895.6Z"/>
<path fill="#f4d09d" d="M229.5,822.6L383.9,822.6L385.1,851.6L384.9,929.1L264.7,929.1L264.6,910.7L259.6,910.3L254.2,908.4L248.2,904.9L235.8,896.1L232.7,894.7L229.7,894.3Z"/>
<path fill="#f3ce99" d="M229.5,822.6L378.9,822.6L379.2,828.1L380.3,834.1L384.1,850.6L385.0,851.6L384.9,929.1L264.7,929.1L264.6,903.8L259.6,903.6L254.7,902.4L249.2,900.2L236.7,893.9L233.2,892.8L229.7,892.5Z"/>
<path fill="#f3cc96" d="M229.5,822.6L372.3,822.6L373.0,828.1L375.3,834.6L381.5,847.1L383.3,850.1L384.8,851.6L384.9,929.1L264.7,929.1L264.6,898.6L259.6,898.3L255.2,897.6L237.2,891.4L233.1,890.5L229.7,890.3Z"/>
<path fill="#f2ca93" d="M229.5,822.6L355.1,822.6L355.1,829.5L358.6,830.0L362.6,832.4L368.6,837.6L379.9,849.1L381.9,850.6L384.7,851.6L384.8,929.1L264.7,929.1L264.6,894.0L255.7,893.3L237.7,888.8L229.7,888.0Z"/>
<path fill="#f2c890" d="M229.5,822.6L355.1,822.6L355.1,842.9L359.1,843.2L363.6,844.4L379.1,852.3L381.6,853.1L384.6,853.3L384.8,929.1L264.7,929.1L264.6,889.9L255.7,889.4L237.7,885.9L229.7,885.3Z"/>
<path fill="#f2c68d" d="M229.5,822.6L355.1,822.6L355.1,851.7L362.6,852.3L378.1,856.4L384.6,857.0L384.8,929.1L264.8,929.1L264.6,885.8L256.1,885.5L238.2,882.8L229.7,882.3Z"/>
<path fill="#f1c48a" d="M229.5,822.6L355.1,822.6L355.1,859.6L362.1,859.9L377.1,861.8L384.6,862.2L384.8,929.1L264.8,929.1L264.6,881.7L256.1,881.4L238.2,879.3L229.7,878.9Z"/>
<path fill="#f1c287" d="M229.6,822.6L355.1,822.6L355.1,866.8L384.6,868.2L384.8,929.1L264.8,929.1L264.6,877.4L256.6,877.2L238.7,875.4L229.7,875.0Z"/>
<path fill="#f0c084" d="M229.6,822.6L355.0,822.6L355.1,873.0L384.6,873.9L384.8,929.1L264.8,929.1L264.6,873.0L256.6,872.7L238.7,870.9L229.7,870.6Z"/>
<path fill="#f0bf87" d="M229.6,822.6L355.0,822.6L355.1,879.1L384.6,879.9L384.8,929.1L264.8,929.1L264.6,867.8L257.1,867.6L238.7,865.2L229.7,864.8Z"/>
<path fill="#efbd8b" d="M229.6,822.6L355.0,822.6L355.2,885.2L384.6,886.4L384.7,929.1L264.9,929.1L264.6,862.0L256.1,861.3L237.7,857.5L229.7,857.0Z"/>
<path fill="#efbc8e" d="M229.6,822.6L355.0,822.6L355.1,890.7L362.1,891.0L377.6,892.7L384.6,892.9L384.7,929.1L264.9,929.1L264.6,856.4L260.6,856.2L256.7,855.1L238.2,847.5L233.7,846.5L229.7,846.3Z"/>
<path fill="#efbb92" d="M243.4,822.6L354.9,822.6L355.1,895.7L362.1,896.3L377.1,899.5L384.6,899.9L384.7,929.1L264.9,929.1L264.7,851.6L262.1,851.4L259.4,849.6L251.8,840.6L245.2,830.1L243.8,826.1Z"/>
<path fill="#efba95" d="M267.8,822.6L354.9,822.6L355.1,899.9L361.1,900.9L376.6,907.3L380.6,908.1L384.6,908.3L384.7,929.1L264.9,929.1L264.9,851.6L267.3,831.1Z"/>
<path fill="#eeb999" d="M294.7,822.6L354.9,822.6L355.1,903.1L358.6,904.1L362.7,907.6L379.1,925.1L380.9,927.6L381.3,929.1L265.0,929.1L265.1,852.0L267.1,851.8L269.6,850.6L280.1,842.5L285.6,839.0L290.1,837.3L294.6,836.9Z"/>
<path fill="#eeb99c" d="M294.7,822.6L354.9,822.6L355.0,903.1L357.2,908.6L359.4,916.6L360.7,923.1L361.0,929.1L265.0,929.1L265.1,856.5L271.1,855.9L286.6,851.5L294.6,850.8Z"/>
<path fill="#eeb8a0" d="M294.8,822.6L354.8,822.6L354.8,903.1L353.8,904.6L350.0,918.6L349.0,924.1L348.7,929.1L265.0,929.1L265.1,862.1L272.1,861.8L287.1,859.8L294.6,859.5Z"/>
<path fill="#eeb9a4" d="M294.8,822.6L354.8,822.6L354.7,903.1L352.1,903.6L350.3,904.6L340.6,913.0L335.6,916.5L331.6,918.3L327.6,918.6L327.6,929.1L265.0,929.1L265.1,867.2L294.6,865.8Z"/>
<path fill="#efb9a7" d="M294.8,822.6L354.8,822.6L354.6,899.8L348.6,900.5L335.1,905.0L327.6,905.7L327.6,929.1L265.1,929.1L265.1,871.6L294.6,870.7Z"/>
<path fill="#efbaab" d="M294.9,822.6L354.8,822.6L354.6,894.0L348.1,894.3L334.1,896.0L327.6,896.3L327.5,929.1L265.1,929.1L265.1,876.9L294.6,876.1Z"/>
<path fill="#efbbae" d="M294.9,822.6L354.8,822.6L354.6,886.6L327.6,887.4L327.5,929.1L265.1,929.1L265.1,883.3L294.6,882.4Z"/>
<path fill="#f0bbb2" d="M294.9,822.6L354.7,822.6L354.6,878.8L327.6,879.2L327.4,929.1L265.1,929.1L265.1,890.7L294.6,889.0Z"/>
<path fill="#f0bcb6" d="M295.0,822.6L354.7,822.6L354.6,871.4L327.6,871.8L327.4,929.1L265.1,929.1L265.1,899.6L272.1,899.2L287.6,896.0L294.6,895.6Z"/>
<path fill="#f0bcb9" d="M295.0,822.6L354.7,822.6L354.6,862.4L327.6,863.4L327.3,929.1L265.1,929.1L265.1,914.1L268.6,913.8L272.6,912.6L277.6,910.0L288.6,903.1L291.6,902.0L294.6,901.8Z"/>
<path fill="#f0bdbd" d="M295.0,822.6L354.7,822.6L354.6,850.5L347.6,850.9L333.6,853.7L327.6,854.1L327.2,929.1L288.5,929.1L289.0,923.1L290.2,916.6L293.8,904.6L295.0,903.1Z"/>
<path fill="#f1bdc1" d="M295.1,822.6L354.7,822.6L354.6,831.5L350.6,832.0L346.6,833.9L341.6,837.7L332.4,846.1L327.6,848.6L327.2,929.1L305.9,929.1L305.2,923.1L302.8,915.6L298.9,907.6L295.1,902.6Z"/>
<path fill="#f1bec4" d="M295.1,822.6L330.5,822.6L330.0,831.1L327.4,848.6L327.1,903.9L319.1,903.2L302.6,898.2L295.1,897.4Z"/>
</g>
<path d="M93.2,929.4V871.2M144.6,822.4V886.6M190.0,929.4V859.7M229.3,822.4V896.7M264.6,929.4V850.6M294.9,822.4V904.6M327.4,929.4V847.1M354.5,822.4V904.6M384.9,929.4V850.6M420.0,822.4V896.7M459.5,929.4V859.7M504.6,822.4V886.6M556.0,929.4V871.3" stroke="#fff" stroke-width="2.9" fill="none"/>
<clipPath id="clip3"><path d="M716.6,822.9 L1293.8,822.9 L1293.8,873.1 L1296.7,873.1 L1296.7,928.9 L713.7,928.9 L713.7,873.1 L716.6,873.1Z"/></clipPath>
<g clip-path="url(#clip3)">
<rect x="712.7" y="821.9" width="585.0" height="108.0" fill="#0000c4"/>
<path fill="#0000c7" d="M713.5,822.6L1035.4,822.6L1035.5,834.1L1040.0,834.7L1044.5,836.9L1050.0,841.0L1060.4,850.1L1062.5,851.2L1065.0,851.5L1065.5,853.3L1068.5,853.1L1072.3,851.6L1086.5,841.5L1091.5,838.5L1096.0,836.8L1100.5,836.4L1100.5,822.6L1297.0,822.6L1297.0,929.1L713.5,929.1Z"/>
<path fill="#0000cb" d="M713.5,822.6L1035.4,822.6L1035.5,847.2L1043.5,848.2L1059.0,854.0L1065.0,854.8L1065.5,859.3L1073.5,858.6L1092.0,853.7L1100.5,853.0L1100.5,822.6L1297.0,822.6L1297.0,929.1L713.5,929.1Z"/>
<path fill="#0000cf" d="M713.5,822.6L1035.4,822.6L1035.5,852.7L1043.0,853.3L1058.5,857.0L1065.0,857.5L1065.5,863.9L1074.0,863.4L1092.0,860.5L1100.5,860.1L1100.5,822.6L1297.0,822.6L1297.0,929.1L713.5,929.1Z"/>
<path fill="#0000d2" d="M713.5,822.6L1035.4,822.6L1035.5,856.7L1042.5,857.1L1058.0,859.7L1065.0,860.1L1065.5,868.1L1074.5,867.7L1092.5,865.6L1100.5,865.3L1100.5,822.6L1297.0,822.6L1297.0,929.1L713.5,929.1Z"/>
<path fill="#0000d6" d="M713.5,822.6L1035.4,822.6L1035.5,860.2L1042.5,860.4L1057.5,862.3L1065.0,862.6L1065.5,872.0L1100.5,869.7L1100.5,822.6L1297.0,822.6L1297.0,929.1L713.5,929.1Z"/>
<path fill="#0000da" d="M713.5,822.6L1035.4,822.6L1035.5,863.3L1065.0,865.1L1065.5,875.8L1100.5,873.5L1100.5,822.6L1297.0,822.6L1297.0,929.1L713.5,929.1Z"/>
<path fill="#0000dd" d="M713.5,822.6L1035.4,822.6L1035.5,866.3L1065.0,867.6L1065.5,879.0L1073.5,878.7L1091.5,876.9L1100.5,876.6L1100.5,822.6L1297.0,822.6L1297.0,929.1L713.5,929.1Z"/>
<path fill="#0000e1" d="M713.5,822.6L1035.4,822.6L1035.5,869.2L1065.0,870.3L1065.5,881.0L1073.5,880.8L1091.5,878.8L1100.5,878.5L1100.5,822.6L1297.0,822.6L1297.0,929.1L713.5,929.1Z"/>
<path fill="#0000e5" d="M713.5,822.6L1035.4,822.6L1035.5,873.6L1065.0,874.5L1065.5,883.6L1073.5,883.3L1092.0,881.0L1100.5,880.7L1100.5,822.6L1297.0,822.6L1297.0,929.1L713.5,929.1Z"/>
<path fill="#0000e8" d="M713.5,822.6L1035.4,822.6L1035.5,879.1L1065.0,879.9L1065.5,886.3L1074.0,885.9L1092.0,883.3L1100.5,882.9L1100.6,822.6L1297.0,822.6L1297.0,929.1L713.5,929.1Z"/>
<path fill="#0000ec" d="M713.5,822.6L1035.4,822.6L1035.5,884.6L1065.0,885.7L1065.5,889.5L1074.0,889.0L1092.5,885.7L1100.5,885.2L1100.6,822.6L1297.0,822.6L1297.0,929.1L713.5,929.1Z"/>
<path fill="#0000f0" d="M713.5,822.6L1035.4,822.6L1035.5,889.5L1065.0,891.5L1065.5,894.8L1074.5,894.1L1092.5,889.3L1100.5,888.5L1100.6,822.6L1297.0,822.6L1297.0,929.1L713.5,929.1Z"/>
<path fill="#0000f3" d="M713.5,822.6L1035.4,822.6L1035.5,893.8L1042.5,894.3L1057.5,896.7L1065.0,897.1L1065.5,903.7L1070.5,903.4L1075.0,902.4L1081.0,900.0L1093.5,893.8L1097.0,892.8L1100.5,892.6L1100.6,822.6L1297.0,822.6L1297.0,929.1L713.5,929.1Z"/>
<path fill="#0201f5" d="M713.5,822.6L1035.4,822.6L1035.5,897.3L1042.0,898.0L1057.5,902.1L1065.0,902.6L1065.4,929.1L713.5,929.1ZM1100.6,822.6L1297.0,822.6L1297.0,929.1L1081.9,929.1L1083.0,922.6L1086.7,914.6L1096.0,899.6L1098.3,897.1L1100.6,895.6Z"/>
<path fill="#0404f5" d="M713.5,822.6L1035.4,822.6L1035.5,898.3L1042.0,899.0L1057.0,903.7L1065.0,904.5L1065.4,929.1L713.5,929.1ZM1100.6,822.6L1297.0,822.6L1297.0,929.1L1106.3,929.1L1105.9,920.6L1104.7,911.1L1102.9,902.1L1101.4,896.6L1100.8,895.6Z"/>
<path fill="#0706f4" d="M713.5,822.6L1035.4,822.6L1035.5,899.1L1042.0,900.1L1057.0,905.5L1065.0,906.4L1065.3,929.1L713.5,929.1ZM1100.6,822.6L1297.0,822.6L1297.0,929.1L1124.3,929.1L1123.8,925.1L1122.4,921.1L1119.5,915.6L1115.5,909.6L1109.9,902.1L1106.3,898.1L1103.6,896.1L1100.9,895.6Z"/>
<path fill="#0a08f4" d="M713.5,822.6L1035.3,822.6L1035.5,899.9L1041.5,900.9L1057.0,907.4L1061.0,908.2L1065.0,908.4L1065.3,929.1L713.5,929.1ZM1100.7,822.6L1297.0,822.6L1297.0,929.1L1140.0,929.1L1140.0,924.7L1136.5,924.2L1132.0,920.9L1107.6,897.1L1104.1,895.1L1101.0,894.7Z"/>
<path fill="#0d0af4" d="M713.5,822.6L1035.3,822.6L1035.5,900.7L1038.5,900.9L1041.5,901.8L1057.0,909.3L1061.0,910.3L1065.0,910.5L1065.2,929.1L713.5,929.1ZM1100.7,822.6L1297.0,822.6L1297.0,929.1L1140.0,929.1L1140.0,915.7L1135.0,915.2L1130.0,913.0L1123.5,908.6L1109.0,896.6L1105.0,894.5L1101.0,893.8Z"/>
<path fill="#100df4" d="M713.5,822.6L1035.3,822.6L1035.5,901.3L1038.0,901.5L1041.3,902.6L1052.5,909.3L1057.0,911.4L1061.0,912.5L1065.0,912.7L1065.2,929.1L713.5,929.1ZM1100.7,822.6L1297.0,822.6L1297.0,929.1L1140.0,929.1L1140.0,911.3L1135.0,910.9L1129.5,909.0L1123.5,905.6L1108.6,895.1L1104.5,893.4L1101.0,893.1Z"/>
<path fill="#130ff4" d="M713.5,822.6L1035.3,822.6L1035.5,901.9L1038.0,902.1L1041.0,903.3L1052.0,910.8L1057.0,913.6L1061.0,914.9L1065.0,915.2L1065.1,929.1L713.5,929.1ZM1100.7,822.6L1297.0,822.6L1297.0,929.1L1140.0,929.1L1140.0,908.1L1135.0,907.7L1129.5,906.1L1123.5,903.1L1108.9,894.1L1105.0,892.7L1101.0,892.3Z"/>
<path fill="#1511f3" d="M713.5,822.6L1035.3,822.6L1035.5,902.4L1038.0,902.7L1040.9,904.1L1052.0,912.8L1057.0,916.1L1061.0,917.8L1065.0,918.1L1065.0,929.1L713.5,929.1ZM1100.7,822.6L1297.0,822.6L1297.0,929.1L1140.0,929.1L1140.0,905.3L1135.0,905.0L1129.5,903.6L1123.5,900.9L1109.1,893.1L1105.0,891.8L1101.0,891.4Z"/>
<path fill="#1814f3" d="M713.5,822.6L1035.3,822.6L1035.5,902.9L1038.0,903.2L1041.2,905.1L1053.0,916.0L1058.0,919.8L1061.5,921.6L1065.0,921.9L1065.0,929.1L713.5,929.1ZM1100.7,822.6L1297.0,822.6L1297.0,929.1L1140.0,929.1L1140.0,902.8L1135.0,902.5L1129.5,901.2L1124.0,899.1L1109.5,892.1L1105.0,890.8L1101.0,890.5Z"/>
<path fill="#1b16f3" d="M713.5,822.6L1035.3,822.6L1035.4,903.1L1039.0,904.3L1044.2,909.1L1057.1,923.6L1059.1,926.6L1059.6,929.1L713.5,929.1ZM1100.7,822.6L1297.0,822.6L1297.0,929.1L1140.0,929.1L1140.0,900.3L1135.0,900.1L1130.0,899.1L1124.0,897.0L1109.5,890.9L1105.0,889.8L1101.0,889.5Z"/>
<path fill="#1e18f3" d="M713.5,822.6L1035.3,822.6L1035.4,903.1L1037.9,904.1L1040.4,906.1L1048.6,916.1L1053.4,923.6L1054.5,926.6L1054.8,929.1L713.5,929.1ZM1100.7,822.6L1297.0,822.6L1297.0,929.1L1140.0,929.1L1140.0,897.8L1135.0,897.6L1130.0,896.7L1109.5,889.5L1105.0,888.6L1101.0,888.3Z"/>
<path fill="#211bf2" d="M713.5,822.6L1035.3,822.6L1035.4,903.1L1038.0,904.6L1040.0,906.6L1047.2,916.6L1050.8,923.6L1051.9,929.1L713.5,929.1ZM1100.7,822.6L1297.0,822.6L1297.0,929.1L1140.0,929.1L1140.0,895.5L1135.0,895.3L1130.0,894.5L1110.0,888.2L1105.5,887.3L1101.0,887.1Z"/>
<path fill="#241df2" d="M713.5,822.6L1035.3,822.6L1035.4,903.1L1039.7,907.1L1045.7,916.6L1048.8,923.6L1049.6,929.1L713.5,929.1ZM1100.7,822.6L1297.0,822.6L1297.0,929.1L1140.0,929.1L1140.0,893.2L1130.0,892.4L1110.0,886.7L1101.0,885.8Z"/>
<path fill="#271ff2" d="M713.5,822.6L1035.3,822.6L1035.4,903.1L1039.1,907.1L1044.1,916.1L1046.9,923.1L1047.7,929.1L713.5,929.1ZM1100.7,822.6L1297.0,822.6L1297.0,929.1L1140.0,929.1L1140.0,891.1L1130.5,890.4L1110.5,885.3L1101.0,884.4Z"/>
<path fill="#2921f2" d="M713.5,822.6L1035.3,822.6L1035.4,903.1L1039.1,908.1L1043.2,916.6L1045.4,923.1L1046.1,929.1L713.5,929.1ZM1100.7,822.6L1297.0,822.6L1297.0,929.1L1140.0,929.1L1140.0,889.1L1130.5,888.5L1110.5,883.8L1101.0,883.0Z"/>
<path fill="#2c24f2" d="M713.5,822.6L1035.3,822.6L1035.4,903.1L1038.6,908.1L1042.1,916.6L1044.1,923.6L1044.6,929.1L713.5,929.1ZM1100.7,822.6L1297.0,822.6L1297.0,929.1L1140.0,929.1L1140.0,887.3L1130.5,886.6L1110.5,882.4L1101.0,881.6Z"/>
<path fill="#2f26f1" d="M713.5,822.6L1035.3,822.6L1035.4,903.1L1038.3,908.6L1041.1,916.6L1042.8,923.1L1043.3,929.1L713.5,929.1ZM1100.7,822.6L1297.0,822.6L1297.0,929.1L1140.0,929.1L1140.0,885.6L1130.5,884.9L1110.5,880.9L1101.0,880.2Z"/>
<path fill="#3228f1" d="M713.5,822.6L1035.3,822.6L1035.4,903.1L1037.8,908.6L1040.2,916.6L1041.6,923.1L1042.0,929.1L713.5,929.1ZM1100.7,822.6L1297.0,822.6L1297.0,929.1L1140.0,929.1L1140.0,884.0L1131.0,883.4L1111.0,879.6L1101.0,878.8Z"/>
<path fill="#352bf1" d="M713.5,822.6L1035.3,822.6L1035.3,903.1L1037.6,909.6L1039.4,916.6L1040.5,923.1L1040.8,929.1L713.5,929.1ZM1100.7,822.6L1297.0,822.6L1297.0,929.1L1140.0,929.1L1140.0,882.5L1131.0,882.0L1111.0,878.2L1101.0,877.5Z"/>
<path fill="#372df1" d="M713.5,822.6L1035.3,822.6L1035.3,903.1L1038.7,917.1L1039.8,929.1L713.5,929.1ZM1100.7,822.6L1297.0,822.6L1297.0,929.1L1140.0,929.1L1140.0,881.2L1131.0,880.6L1111.0,876.9L1101.0,876.2Z"/>
<path fill="#3a30f1" d="M713.5,822.6L1035.3,822.6L1035.3,903.1L1037.8,916.6L1038.7,929.1L713.5,929.1ZM1100.8,822.6L1297.0,822.6L1297.0,929.1L1140.0,929.1L1140.0,879.9L1131.0,879.4L1111.0,875.7L1101.0,875.0Z"/>
<path fill="#3d32f1" d="M713.5,822.6L1035.3,822.6L1035.3,903.1L1037.1,916.6L1037.8,929.1L713.5,929.1ZM1100.8,822.6L1297.0,822.6L1297.0,929.1L1140.0,929.1L1140.0,878.8L1131.5,878.4L1111.0,874.5L1101.0,873.8Z"/>
<path fill="#3f35f1" d="M713.5,822.6L1035.3,822.6L1035.3,903.1L1036.4,916.6L1036.8,929.1L713.5,929.1ZM1100.8,822.6L1297.0,822.6L1297.0,929.1L1140.0,929.1L1140.0,877.8L1131.5,877.3L1111.0,873.4L1101.0,872.7Z"/>
<path fill="#4238f1" d="M713.5,822.6L1035.3,822.6L1035.2,904.6L1035.9,929.1L713.5,929.1ZM1100.8,822.6L1297.0,822.6L1297.0,929.1L1140.0,929.1L1140.0,876.8L1131.5,876.3L1111.5,872.4L1101.0,871.6Z"/>
<path fill="#453af1" d="M713.5,822.6L1035.3,822.6L1035.0,929.1L713.5,929.1ZM1100.8,822.6L1297.0,822.6L1297.0,929.1L1140.0,929.1L1140.0,876.0L1131.5,875.5L1111.5,871.4L1101.0,870.6Z"/>
<path fill="#473df1" d="M713.5,822.6L1035.3,822.6L1035.3,902.1L1034.1,929.1L713.5,929.1ZM1100.8,822.6L1297.0,822.6L1297.0,929.1L1140.0,929.1L1140.0,875.2L1130.0,874.4L1110.0,870.3L1101.0,869.7Z"/>
<path fill="#4a3ff1" d="M713.5,822.6L1035.3,822.6L1035.3,902.6L1034.8,904.1L1033.2,929.1L713.5,929.1ZM1100.8,822.6L1297.0,822.6L1297.0,929.1L1140.0,929.1L1140.0,874.5L1130.5,873.8L1110.0,869.4L1101.0,868.8Z"/>
<path fill="#4d42f1" d="M713.5,822.6L1035.3,822.6L1035.2,903.1L1034.6,904.1L1033.0,918.1L1032.3,929.1L713.5,929.1ZM1100.8,822.6L1297.0,822.6L1297.0,929.1L1140.0,929.1L1140.0,873.8L1130.5,873.1L1110.0,868.6L1101.0,867.9Z"/>
<path fill="#4f44f0" d="M713.5,822.6L1035.3,822.6L1035.2,903.1L1034.5,904.1L1032.4,918.1L1031.5,929.1L713.5,929.1ZM1100.8,822.6L1297.0,822.6L1297.0,929.1L1140.0,929.1L1140.0,873.2L1130.5,872.4L1110.0,867.7L1101.0,867.1Z"/>
<path fill="#5247f0" d="M713.5,822.6L1035.3,822.6L1035.2,903.1L1034.4,904.1L1031.7,918.1L1030.6,929.1L713.5,929.1ZM1100.8,822.6L1297.0,822.6L1297.0,929.1L1140.0,929.1L1140.0,872.6L1130.5,871.7L1110.5,867.0L1101.0,866.3Z"/>
<path fill="#5549f0" d="M713.5,822.6L1035.3,822.6L1035.2,903.1L1034.2,904.6L1031.0,918.1L1030.0,924.1L1029.8,929.1L713.5,929.1ZM1100.8,822.6L1297.0,822.6L1297.0,929.1L1140.0,929.1L1140.0,872.0L1130.5,871.1L1110.5,866.2L1101.0,865.4Z"/>
<path fill="#574cf0" d="M713.5,822.6L1035.3,822.6L1035.2,903.1L1034.1,904.6L1030.4,918.1L1029.2,924.1L1028.9,929.1L720.1,929.1L719.5,913.1L717.6,892.1L715.0,871.1L713.5,870.1ZM1100.8,822.6L1297.0,822.6L1297.0,929.1L1140.0,929.1L1140.0,871.4L1130.5,870.5L1110.5,865.4L1101.0,864.6Z"/>
<path fill="#5a4ef0" d="M713.5,822.6L1035.3,822.6L1035.2,903.1L1034.0,904.6L1029.7,918.1L1028.4,924.1L1028.0,929.1L735.4,929.1L734.9,921.6L733.4,913.6L730.5,903.1L726.0,890.1L722.8,882.1L720.0,876.6L717.8,873.6L714.0,869.9L713.5,869.9ZM1100.8,822.6L1297.0,822.6L1297.0,929.1L1140.1,929.1L1140.0,870.9L1131.0,870.0L1110.5,864.6L1101.0,863.8Z"/>
<path fill="#5d51f0" d="M713.5,822.6L1035.3,822.6L1035.2,903.1L1033.9,904.6L1029.0,918.1L1027.6,924.1L1027.1,929.1L748.7,929.1L747.9,922.1L745.2,914.1L740.0,903.6L728.9,883.1L725.0,877.1L721.3,873.1L719.0,871.6L715.5,871.1L713.5,869.7ZM1100.8,822.6L1297.0,822.6L1297.0,929.1L1140.1,929.1L1140.0,870.3L1131.0,869.4L1110.5,863.8L1101.0,862.9Z"/>
<path fill="#5f54f0" d="M713.5,822.6L1035.3,822.6L1035.2,903.1L1033.8,904.6L1028.4,918.1L1026.7,924.1L1026.2,929.1L773.5,929.1L773.5,924.5L770.5,924.1L767.5,922.4L762.5,918.1L755.5,910.9L746.0,899.7L731.9,880.1L726.9,874.1L723.5,871.2L720.5,869.5L717.5,868.8L713.5,868.8ZM1100.8,822.6L1297.0,822.6L1297.0,929.1L1140.1,929.1L1140.0,869.8L1131.0,868.8L1110.5,862.9L1101.0,862.1Z"/>
<path fill="#6256f0" d="M713.5,822.6L1035.3,822.6L1035.2,903.1L1033.7,904.6L1032.6,906.6L1027.7,918.1L1025.8,924.1L1025.3,929.1L773.5,929.1L773.5,906.8L769.5,906.6L765.5,905.6L761.5,903.9L757.5,901.5L753.0,898.0L748.0,893.3L733.5,876.1L727.9,870.6L724.5,868.3L721.0,866.8L718.0,866.2L713.5,866.1ZM1100.8,822.6L1297.0,822.6L1297.0,929.1L1140.1,929.1L1140.0,869.3L1135.5,869.1L1131.0,868.3L1111.0,862.2L1101.0,861.2Z"/>
<path fill="#6559f0" d="M713.5,822.6L1035.3,822.6L1035.1,903.1L1033.6,904.6L1032.1,907.1L1027.0,918.1L1024.9,924.1L1024.4,929.1L773.5,929.1L773.5,898.9L769.0,898.7L764.5,897.6L760.0,895.7L755.5,893.0L747.5,886.2L733.5,871.1L727.0,866.0L720.5,863.4L713.5,863.0ZM1100.8,822.6L1297.0,822.6L1297.0,929.1L1140.1,929.1L1140.0,868.8L1135.5,868.6L1131.0,867.7L1111.0,861.4L1101.0,860.3Z"/>
<path fill="#675bf0" d="M713.5,822.6L1035.3,822.6L1035.1,903.1L1033.5,904.6L1031.9,907.1L1026.2,918.1L1024.0,924.1L1023.4,929.1L773.5,929.1L773.5,893.3L769.0,893.0L764.5,892.0L760.5,890.4L756.0,887.8L749.0,882.1L735.0,867.7L728.0,862.6L721.0,859.9L713.5,859.4ZM1100.8,822.6L1297.0,822.6L1297.0,929.1L1140.1,929.1L1140.0,868.3L1135.5,868.1L1131.0,867.1L1111.0,860.5L1106.0,859.7L1101.0,859.4Z"/>
<path fill="#6a5ef0" d="M713.5,822.6L1035.3,822.6L1035.1,903.1L1031.8,906.6L1025.2,918.1L1022.6,924.1L1021.9,929.1L773.5,929.1L773.5,887.9L769.0,887.7L765.0,886.7L761.0,885.1L757.0,882.7L750.5,877.4L736.5,863.1L729.0,857.6L725.5,855.9L721.5,854.7L713.5,854.2ZM1100.9,822.6L1297.0,822.6L1297.0,929.1L1140.1,929.1L1140.0,867.6L1136.0,867.4L1131.5,866.5L1111.0,859.2L1106.0,858.3L1101.0,858.1Z"/>
<path fill="#6c61f0" d="M713.5,822.6L1035.2,822.6L1035.1,903.1L1031.4,906.6L1023.8,918.6L1020.9,924.6L1020.2,929.1L773.5,929.1L773.5,884.3L769.5,884.1L765.5,883.2L761.5,881.5L758.0,879.3L752.0,874.1L737.5,858.6L729.5,852.5L722.0,849.3L718.5,848.7L713.5,848.7ZM1100.9,822.6L1297.0,822.6L1297.0,929.1L1140.1,929.1L1140.0,866.9L1136.0,866.7L1131.5,865.7L1111.5,858.0L1106.0,856.9L1101.0,856.6Z"/>
<path fill="#6f63f0" d="M713.5,822.6L1035.2,822.6L1035.1,903.1L1032.8,904.6L1030.9,906.6L1022.5,918.6L1019.2,924.6L1018.3,929.1L773.5,929.1L773.5,881.6L769.5,881.4L766.0,880.5L762.5,878.9L758.5,876.2L752.7,870.6L738.5,854.2L734.0,850.0L729.5,846.6L725.5,844.3L721.5,842.8L718.0,842.2L713.5,842.1ZM1100.9,822.6L1297.0,822.6L1297.0,929.1L1140.1,929.1L1140.0,866.2L1136.0,866.0L1131.5,864.8L1117.5,858.6L1111.5,856.5L1106.0,855.4L1101.0,855.1Z"/>
<path fill="#7166f0" d="M713.5,822.6L1035.2,822.6L1035.1,903.1L1031.0,906.1L1020.6,919.6L1017.2,925.1L1016.3,929.1L773.5,929.1L773.5,879.4L769.5,879.1L766.0,878.1L762.5,876.2L759.0,873.4L753.6,867.6L738.0,847.7L732.5,841.9L727.0,836.9L723.5,834.4L720.0,832.7L717.5,832.2L713.5,832.2ZM1100.9,822.6L1297.0,822.6L1297.0,929.1L1140.1,929.1L1140.0,865.5L1136.0,865.3L1131.9,864.1L1117.5,857.3L1111.5,855.0L1106.0,853.7L1101.0,853.4Z"/>
<path fill="#7469f0" d="M730.7,822.6L1035.2,822.6L1035.1,903.1L1032.2,904.6L1030.6,906.1L1018.0,921.1L1014.7,925.6L1013.7,929.1L773.5,929.1L773.5,877.5L769.0,877.1L765.0,875.4L760.8,872.1L756.3,867.1L734.7,834.6L731.6,828.1ZM1100.9,822.6L1297.0,822.6L1297.0,929.1L1140.1,929.1L1140.0,864.9L1136.0,864.6L1132.0,863.3L1118.0,856.1L1112.0,853.5L1106.5,852.1L1101.0,851.7Z"/>
<path fill="#766bf0" d="M738.7,822.6L1035.2,822.6L1035.0,903.1L1030.7,905.6L1020.0,917.5L1013.5,923.9L1010.5,926.0L1008.0,926.2L1007.9,929.1L773.5,929.1L773.5,876.0L769.0,875.4L765.0,873.2L761.2,869.6L756.7,863.6L748.6,849.6L742.2,837.1L739.6,829.6ZM1100.9,822.6L1297.0,822.6L1297.0,929.1L1140.1,929.1L1140.0,864.2L1136.0,863.9L1132.2,862.6L1118.5,854.8L1112.0,851.8L1106.5,850.3L1101.0,849.9Z"/>
<path fill="#796eef" d="M744.6,822.6L1035.2,822.6L1035.0,903.1L1032.4,904.1L1030.4,905.6L1020.5,915.9L1015.0,920.7L1011.5,922.7L1008.0,923.2L1007.9,929.1L773.5,929.1L773.5,874.6L769.5,874.1L766.0,872.0L762.1,867.6L758.3,861.6L752.3,849.6L747.6,838.1L745.3,830.1ZM1100.9,822.6L1297.0,822.6L1297.0,929.1L1140.1,929.1L1140.0,863.7L1136.5,863.4L1132.5,862.0L1118.5,853.3L1112.0,850.0L1106.5,848.4L1101.0,847.9Z"/>
<path fill="#7b71ef" d="M749.3,822.6L1035.2,822.6L1035.0,903.1L1034.5,903.7L1032.5,903.9L1030.6,905.1L1020.5,915.0L1015.5,919.0L1011.5,921.0L1008.0,921.3L1007.9,929.1L773.6,929.1L773.5,873.6L770.0,873.1L766.6,870.6L763.2,866.1L760.0,860.1L755.2,848.6L751.7,838.1L749.9,830.1ZM1100.9,822.6L1297.0,822.6L1297.0,929.1L1140.1,929.1L1140.0,863.1L1136.5,862.8L1133.0,861.4L1119.0,851.9L1112.5,848.3L1106.5,846.3L1101.0,845.8Z"/>
<path fill="#7e73ef" d="M753.4,822.6L1035.2,822.6L1035.0,903.1L1032.5,903.8L1030.3,905.1L1021.0,913.7L1016.0,917.5L1012.0,919.5L1008.0,919.9L1007.9,929.1L773.6,929.1L773.5,872.7L770.5,872.3L767.8,870.1L764.8,865.6L761.8,859.1L758.1,848.6L755.3,838.6L753.8,830.1ZM1100.9,822.6L1297.0,822.6L1297.0,929.1L1140.1,929.1L1140.0,862.6L1136.5,862.3L1133.0,860.6L1119.5,850.5L1112.5,846.2L1106.5,844.0L1101.0,843.4Z"/>
<path fill="#8076ef" d="M757.0,822.6L1035.2,822.6L1035.0,903.1L1032.5,903.6L1030.6,904.6L1021.0,913.0L1016.0,916.6L1012.0,918.3L1008.0,918.7L1007.9,929.1L773.6,929.1L773.5,872.6L770.8,871.6L768.4,869.1L766.1,865.1L763.6,858.6L760.7,848.6L758.5,838.6L757.3,830.1ZM1100.9,822.6L1297.0,822.6L1297.0,929.1L1140.1,929.1L1140.0,862.1L1137.0,861.9L1133.4,860.1L1119.5,848.6L1112.5,843.9L1106.5,841.4L1101.0,840.7Z"/>
<path fill="#8379ef" d="M760.3,822.6L1035.2,822.6L1035.0,903.1L1032.5,903.4L1030.2,904.6L1021.0,912.3L1016.0,915.7L1012.0,917.3L1008.0,917.6L1007.9,929.1L773.6,929.1L773.5,872.6L772.5,871.6L771.1,871.1L769.2,868.6L767.2,864.1L765.2,857.6L761.5,838.6ZM1100.9,822.6L1297.0,822.6L1297.0,929.1L1140.1,929.1L1140.0,861.7L1137.0,861.4L1133.8,859.6L1119.5,846.6L1112.0,841.0L1106.5,838.4L1101.0,837.6Z"/>
<path fill="#857bef" d="M763.4,822.6L1035.2,822.6L1035.0,903.1L1033.0,903.2L1030.6,904.1L1020.5,912.0L1016.0,914.8L1012.0,916.3L1008.0,916.6L1007.9,929.1L773.6,929.1L773.5,872.6L771.4,870.6L770.0,868.1L767.1,858.1L764.3,839.6ZM1100.9,822.6L1297.0,822.6L1297.0,929.1L1140.1,929.1L1140.0,861.3L1137.0,860.9L1134.1,859.1L1119.0,843.8L1111.5,837.5L1106.0,834.4L1101.0,833.6Z"/>
<path fill="#887eef" d="M766.3,822.6L1035.2,822.6L1035.0,902.9L1032.5,903.1L1030.2,904.1L1020.5,911.4L1016.0,914.1L1012.0,915.5L1008.0,915.8L1007.9,929.1L773.6,929.1L773.6,872.6L772.2,871.1L770.7,867.6L768.7,858.1L766.9,840.1ZM1100.9,822.6L1297.0,822.6L1297.0,929.1L1140.1,929.1L1140.0,861.1L1137.0,860.5L1133.9,858.1L1118.5,840.6L1108.0,830.1L1104.0,827.0L1101.0,826.3Z"/>
<path fill="#8a81ef" d="M769.8,822.6L1035.2,822.6L1035.0,902.7L1032.5,902.9L1030.5,903.7L1020.5,910.7L1016.0,913.2L1012.0,914.5L1008.0,914.8L1007.9,929.1L773.6,929.1L773.6,872.6L772.6,871.1L771.8,868.1L770.7,859.1ZM1112.2,822.6L1297.0,822.6L1297.0,929.1L1140.1,929.1L1140.0,861.1L1137.0,859.9L1134.0,857.1L1118.6,836.6L1113.6,828.6L1112.6,825.6Z"/>
<path fill="#8d84ef" d="M773.2,822.6L1035.2,822.6L1035.0,902.5L1032.5,902.7L1030.0,903.6L1020.5,909.9L1016.0,912.3L1012.0,913.5L1008.0,913.8L1007.9,929.1L773.6,929.1L773.7,872.6L773.0,871.6L772.5,860.6ZM1117.1,822.6L1297.0,822.6L1297.0,929.1L1140.1,929.1L1140.0,861.1L1137.3,859.6L1134.6,856.6L1122.7,838.1L1118.4,829.6L1117.4,826.1Z"/>
<path fill="#8f86ef" d="M776.7,822.6L1035.2,822.6L1035.0,902.3L1032.5,902.4L1030.0,903.3L1020.5,909.2L1016.0,911.5L1012.0,912.6L1008.0,912.9L1007.9,929.1L773.6,929.1L773.5,869.6L776.2,836.1ZM1120.8,822.6L1297.0,822.6L1297.0,929.1L1140.2,929.1L1140.0,861.1L1137.4,859.1L1135.2,856.1L1125.7,839.1L1121.9,830.1Z"/>
<path fill="#9189ef" d="M780.2,822.6L1035.2,822.6L1035.0,902.1L1032.5,902.2L1030.0,903.0L1016.0,910.6L1012.0,911.7L1008.0,911.9L1007.9,929.1L773.7,929.1L773.7,872.6L779.1,839.1ZM1123.8,822.6L1297.0,822.6L1297.0,929.1L1140.2,929.1L1140.1,861.1L1137.9,859.1L1135.7,855.6L1127.9,839.1L1124.7,830.1Z"/>
<path fill="#948cf0" d="M783.9,822.6L1035.2,822.6L1035.0,901.8L1032.5,901.9L1029.5,902.8L1016.0,909.8L1012.0,910.8L1008.0,911.0L1007.9,929.1L773.7,929.1L773.8,872.6L776.7,863.1L781.7,842.1L783.4,831.6ZM1126.4,822.6L1297.0,822.6L1297.0,929.1L1140.2,929.1L1140.1,861.1L1138.6,859.6L1136.7,856.1L1129.8,839.1L1127.2,830.1Z"/>
<path fill="#968ff0" d="M787.8,822.6L1035.2,822.6L1035.0,901.5L1032.5,901.6L1029.5,902.4L1020.0,907.3L1015.5,909.0L1012.0,909.8L1008.0,910.0L1007.9,929.1L773.7,929.1L773.8,872.6L777.7,864.6L784.3,844.1L787.0,832.6ZM1128.8,822.6L1297.0,822.6L1297.0,929.1L1140.2,929.1L1140.1,861.1L1138.8,859.6L1137.2,855.6L1131.6,839.1L1129.4,830.1Z"/>
<path fill="#9892f0" d="M792.1,822.6L1035.2,822.6L1035.0,901.1L1032.0,901.3L1029.5,902.0L1015.5,908.0L1012.0,908.8L1008.0,909.0L1007.9,929.1L773.7,929.1L773.9,872.6L776.5,869.6L778.8,865.6L787.2,845.1L791.0,832.6ZM1131.0,822.6L1297.0,822.6L1297.0,929.1L1140.2,929.1L1140.1,861.1L1139.0,859.6L1137.8,855.6L1133.1,838.6L1131.5,830.1Z"/>
<path fill="#9b95f0" d="M797.0,822.6L1035.2,822.6L1035.0,900.7L1029.5,901.4L1015.5,906.9L1008.0,907.7L1007.9,929.1L773.7,929.1L773.9,872.6L776.8,870.6L779.8,866.6L790.3,846.1L795.4,833.1L796.6,827.6ZM1133.0,822.6L1297.0,822.6L1297.0,929.1L1140.2,929.1L1140.1,861.1L1139.3,859.6L1134.7,838.1L1133.4,829.6Z"/>
<path fill="#9d97f0" d="M803.0,822.6L1035.2,822.6L1035.0,900.1L1029.5,900.7L1015.5,905.6L1008.0,906.4L1007.9,929.1L773.7,929.1L773.9,872.6L777.0,871.6L780.9,867.6L793.7,847.1L800.8,833.1L802.5,827.6ZM1135.0,822.6L1297.0,822.6L1297.0,929.1L1140.2,929.1L1140.2,861.1L1139.5,860.1L1136.1,837.1Z"/>
<path fill="#9f9af0" d="M811.6,822.6L1035.2,822.6L1035.0,899.5L1029.5,900.0L1015.0,904.5L1008.0,905.1L1007.9,929.1L773.7,929.1L774.0,873.3L776.5,873.0L779.5,871.2L786.2,863.6L807.7,833.6L810.7,827.6ZM1137.0,822.6L1297.0,822.6L1297.0,929.1L1140.2,929.1L1140.2,861.1L1139.8,860.1L1137.5,835.1Z"/>
<path fill="#a29df0" d="M825.0,822.6L1035.2,822.6L1035.0,898.8L1029.0,899.4L1015.0,903.2L1008.0,903.7L1007.9,929.1L773.7,929.1L774.0,874.4L776.0,874.3L778.5,873.4L783.0,870.1L801.0,850.0L811.5,840.3L818.5,836.0L821.5,835.1L825.0,834.8ZM1138.9,822.6L1297.0,822.6L1297.0,929.1L1140.2,929.1L1140.2,861.1Z"/>
<path fill="#a4a0f0" d="M825.0,822.6L1035.1,822.6L1035.0,897.9L1029.0,898.4L1015.0,901.7L1008.0,902.2L1007.9,929.1L773.8,929.1L774.0,875.8L779.0,875.0L783.8,872.1L801.0,855.8L810.0,849.0L817.5,845.5L821.0,844.7L825.0,844.5ZM1141.2,822.6L1297.0,822.6L1297.0,929.1L1140.2,929.1L1140.2,861.1L1141.1,847.6Z"/>
<path fill="#a6a3f1" d="M825.0,822.6L1035.1,822.6L1035.0,896.9L1028.5,897.4L1015.0,900.1L1008.0,900.5L1007.9,929.1L773.8,929.1L774.0,877.5L779.0,876.9L784.5,874.2L802.0,859.9L810.5,854.4L818.0,851.6L825.0,850.9ZM1143.5,822.6L1297.0,822.6L1297.0,929.1L1140.2,929.1L1140.3,861.1L1141.6,854.1L1142.5,845.6Z"/>
<path fill="#a9a5f1" d="M825.0,822.6L1035.1,822.6L1035.0,895.8L1028.5,896.2L1014.5,898.6L1008.0,898.9L1007.9,929.1L773.8,929.1L774.0,879.4L779.5,878.8L785.0,876.5L790.1,873.1L803.0,863.4L810.5,859.1L818.0,856.5L825.0,855.9ZM1145.8,822.6L1297.0,822.6L1297.0,929.1L1140.2,929.1L1140.3,861.1L1140.9,860.1L1142.3,854.6L1144.1,844.6L1145.4,833.1Z"/>
<path fill="#aba8f1" d="M825.0,822.6L1035.1,822.6L1035.0,894.6L1028.5,894.9L1014.5,896.9L1008.0,897.1L1007.9,929.1L773.8,929.1L774.0,881.6L780.0,880.9L785.8,878.6L790.9,875.6L803.5,866.9L811.0,862.9L818.0,860.7L825.0,860.1ZM1148.2,822.6L1297.0,822.6L1297.0,929.1L1140.2,929.1L1140.3,861.1L1143.2,854.6L1145.7,844.6L1147.7,832.6Z"/>
<path fill="#adabf1" d="M825.0,822.6L1035.1,822.6L1035.0,893.3L1008.0,895.3L1007.9,929.1L773.8,929.1L774.0,883.9L780.0,883.3L786.5,881.0L792.0,878.0L805.0,869.5L812.0,866.0L818.5,864.2L825.0,863.7ZM1150.8,822.6L1297.0,822.6L1297.0,929.1L1140.2,929.1L1140.4,861.1L1143.7,855.6L1147.5,844.1L1150.0,832.6Z"/>
<path fill="#b0aef2" d="M825.0,822.6L1035.1,822.6L1035.0,891.8L1008.0,893.4L1007.9,929.1L773.8,929.1L774.0,886.4L780.5,885.8L787.0,883.6L792.5,880.6L805.5,872.4L812.5,869.0L818.5,867.3L825.0,866.8ZM1153.7,822.6L1297.0,822.6L1297.0,929.1L1140.2,929.1L1140.4,861.1L1142.9,858.6L1144.7,855.6L1149.2,844.6L1152.6,832.6Z"/>
<path fill="#b2b1f2" d="M825.0,822.6L1035.1,822.6L1035.0,890.2L1008.0,891.5L1007.8,929.1L773.9,929.1L774.0,889.2L780.5,888.6L787.5,886.2L793.5,883.0L806.5,874.8L813.0,871.7L819.0,870.0L825.0,869.6ZM1156.9,822.6L1297.0,822.6L1297.0,929.1L1140.3,929.1L1140.4,861.1L1143.3,859.1L1145.2,856.6L1151.3,844.6L1155.6,832.6L1156.6,827.6Z"/>
<path fill="#b5b4f2" d="M825.0,822.6L1035.1,822.6L1035.0,888.5L1008.0,889.5L1007.8,929.1L773.9,929.1L774.0,892.2L781.0,891.5L788.0,889.0L794.0,885.8L807.0,877.3L813.5,874.1L819.0,872.5L825.0,872.1ZM1160.7,822.6L1297.0,822.6L1297.0,929.1L1140.3,929.1L1140.4,861.1L1143.1,860.1L1145.8,857.6L1149.3,852.6L1153.3,845.6L1156.7,838.6L1159.0,832.6L1160.3,827.6Z"/>
<path fill="#b7b6f2" d="M825.0,822.6L1035.1,822.6L1035.0,886.7L1008.0,887.6L1007.8,929.1L773.9,929.1L774.0,895.5L780.0,895.0L786.5,893.0L793.5,889.3L806.5,880.4L812.0,877.2L818.5,874.9L825.0,874.3ZM1165.8,822.6L1297.0,822.6L1297.0,929.1L1140.3,929.1L1140.5,861.4L1143.5,860.8L1146.9,858.1L1150.7,853.6L1155.8,846.1L1160.7,838.1L1163.7,832.1L1165.3,827.1Z"/>
<path fill="#b9b9f3" d="M825.0,822.6L1035.1,822.6L1035.0,884.9L1008.0,885.6L1007.8,929.1L773.9,929.1L774.0,899.3L780.0,898.8L786.5,896.7L794.0,892.4L807.0,882.8L812.5,879.4L819.0,876.9L825.0,876.4ZM1174.1,822.6L1297.0,822.6L1297.0,929.1L1140.3,929.1L1140.5,862.3L1143.5,861.9L1146.7,860.1L1150.1,857.1L1154.6,852.1L1170.8,831.6L1173.4,826.6Z"/>
<path fill="#bcbcf3" d="M825.1,822.6L1035.1,822.6L1035.0,883.2L1008.0,883.8L1007.8,929.1L773.9,929.1L774.0,903.8L780.5,903.1L787.0,900.6L794.5,895.9L807.6,885.1L813.0,881.5L819.0,878.9L825.0,878.2ZM1185.0,822.6L1297.0,822.6L1297.0,929.1L1140.3,929.1L1140.5,863.5L1144.5,862.9L1149.4,860.1L1166.5,844.6L1174.0,838.9L1180.0,836.0L1185.0,835.4Z"/>
<path fill="#bebff3" d="M825.1,822.6L1035.1,822.6L1035.0,881.5L1008.0,882.0L1007.8,929.1L773.9,929.1L774.0,909.4L780.0,908.6L786.5,905.8L794.5,900.1L808.1,887.6L813.1,883.6L819.0,880.7L825.0,879.9ZM1185.0,822.6L1297.0,822.6L1297.0,929.1L1140.3,929.1L1140.5,865.0L1145.0,864.4L1149.5,862.5L1166.0,850.5L1173.0,846.3L1179.0,844.1L1185.0,843.5Z"/>
<path fill="#c1c1f4" d="M825.1,822.6L1035.1,822.6L1035.0,880.0L1008.0,880.4L1007.8,929.1L773.9,929.1L774.0,917.5L777.0,917.2L780.0,916.3L787.5,911.5L795.5,904.2L809.6,889.1L814.8,884.6L820.0,882.0L825.0,881.4ZM1185.0,822.6L1297.0,822.6L1297.0,929.1L1140.3,929.1L1140.5,866.7L1145.0,866.3L1150.0,864.6L1166.5,854.8L1173.0,851.6L1179.0,849.9L1185.0,849.4Z"/>
<path fill="#c3c4f4" d="M825.1,822.6L1035.1,822.6L1035.0,878.5L1008.0,878.9L1007.8,929.1L785.9,929.1L786.8,924.1L789.7,918.6L809.8,892.1L814.0,887.6L818.0,884.5L821.5,882.9L825.0,882.6ZM1185.0,822.6L1297.0,822.6L1297.0,929.1L1140.3,929.1L1140.5,868.7L1145.5,868.3L1150.5,866.9L1167.0,858.6L1173.5,855.9L1179.5,854.5L1185.0,854.2Z"/>
<path fill="#c5c7f4" d="M825.1,822.6L1035.1,822.6L1035.0,877.0L1008.0,877.4L1007.8,929.1L794.4,929.1L795.1,923.1L797.5,916.6L802.1,908.1L809.3,896.6L814.1,890.1L818.0,886.1L821.5,884.2L825.0,883.8ZM1185.0,822.6L1297.0,822.6L1297.0,929.1L1140.3,929.1L1140.5,870.8L1145.5,870.5L1151.0,869.1L1167.5,861.8L1174.0,859.5L1179.5,858.4L1185.0,858.1Z"/>
<path fill="#c8caf5" d="M825.1,822.6L1035.1,822.6L1035.0,875.6L1008.0,876.0L1007.8,929.1L800.3,929.1L800.8,923.1L802.7,916.1L806.1,908.1L811.2,898.1L815.2,891.6L818.9,887.1L822.0,885.1L825.0,884.7ZM1185.0,822.6L1297.0,822.6L1297.0,929.1L1140.3,929.1L1140.5,872.8L1146.0,872.5L1151.5,871.2L1168.0,864.6L1174.0,862.7L1179.5,861.6L1185.0,861.4Z"/>
<path fill="#caccf5" d="M825.1,822.6L1035.1,822.6L1035.0,874.2L1008.0,874.5L1007.8,929.1L805.2,929.1L805.6,922.6L807.0,916.1L809.7,908.1L813.2,899.6L816.6,892.6L819.6,888.1L822.0,886.0L825.0,885.1ZM1185.0,822.6L1297.0,822.6L1297.0,929.1L1140.3,929.1L1140.5,874.8L1146.0,874.5L1151.5,873.3L1174.0,865.3L1179.5,864.3L1185.0,864.0Z"/>
<path fill="#cdcff6" d="M825.1,822.6L1035.0,822.6L1035.0,872.7L1008.0,873.1L1007.8,929.1L809.5,929.1L809.8,923.1L810.8,916.6L815.3,900.6L817.8,894.1L820.4,889.1L822.4,886.6L825.0,885.1ZM1185.0,822.6L1297.0,822.6L1297.0,929.1L1140.3,929.1L1140.5,876.6L1146.0,876.3L1151.8,875.1L1174.5,867.3L1180.0,866.4L1185.0,866.2Z"/>
<path fill="#cfd2f6" d="M825.1,822.6L1035.0,822.6L1035.0,871.3L1008.0,871.7L1007.8,929.1L813.4,929.1L814.4,916.1L817.8,900.1L821.3,889.6L822.8,887.1L825.0,885.1ZM1185.0,822.6L1297.0,822.6L1297.0,929.1L1140.3,929.1L1140.5,878.3L1146.0,878.0L1152.0,876.8L1175.0,869.0L1180.0,868.2L1185.0,868.0Z"/>
<path fill="#d2d4f6" d="M825.1,822.6L1035.0,822.6L1035.0,869.8L1008.0,870.3L1007.8,929.1L817.1,929.1L817.8,915.1L820.0,899.6L822.3,890.1L823.7,886.6L825.1,885.1ZM1185.0,822.6L1297.0,822.6L1297.0,929.1L1140.4,929.1L1140.5,880.0L1146.5,879.6L1152.5,878.4L1175.0,870.7L1180.0,869.8L1185.0,869.6Z"/>
<path fill="#d4d7f7" d="M825.1,822.6L1035.0,822.6L1035.0,868.3L1008.0,868.9L1007.8,929.1L820.7,929.1L821.1,913.6L822.1,898.6L823.4,889.6L824.1,886.6L825.1,885.1ZM1185.0,822.6L1297.0,822.6L1297.0,929.1L1140.4,929.1L1140.5,881.6L1145.5,881.3L1151.0,880.4L1173.5,872.6L1179.5,871.3L1185.0,871.1Z"/>
<path fill="#d7d9f7" d="M825.2,822.6L1035.0,822.6L1035.0,866.8L1008.0,867.4L1007.8,929.1L824.2,929.1L824.0,896.1L824.6,886.1L825.2,885.1ZM1185.0,822.6L1297.0,822.6L1297.0,929.1L1140.4,929.1L1140.5,883.2L1145.5,883.0L1151.0,882.0L1174.0,873.9L1179.5,872.7L1185.0,872.4Z"/>
<path fill="#d9dcf8" d="M825.2,822.6L1035.0,822.6L1035.0,865.2L1008.0,865.9L1007.8,929.1L827.8,929.1L827.4,917.1L825.0,887.1ZM1185.0,822.6L1297.0,822.6L1297.0,929.1L1140.4,929.1L1140.5,884.9L1146.0,884.6L1151.5,883.5L1174.0,875.2L1179.5,874.0L1185.0,873.7Z"/>
<path fill="#dcdff8" d="M825.2,822.6L1035.0,822.6L1035.0,863.5L1008.0,864.4L1007.8,929.1L831.4,929.1L830.3,914.1L825.2,885.1ZM1185.1,822.6L1297.0,822.6L1297.0,929.1L1140.4,929.1L1140.5,886.7L1146.0,886.4L1151.5,885.3L1157.5,883.3L1174.5,876.5L1180.0,875.2L1185.0,875.0Z"/>
<path fill="#dee1f9" d="M825.2,822.6L1035.0,822.6L1035.0,861.7L1008.0,862.8L1007.8,929.1L835.2,929.1L834.7,921.1L833.1,912.1L828.3,894.1L825.9,886.1L825.3,885.1ZM1185.1,822.6L1297.0,822.6L1297.0,929.1L1140.4,929.1L1140.5,888.6L1146.0,888.3L1152.0,887.1L1158.0,885.0L1174.5,877.8L1180.0,876.5L1185.0,876.2Z"/>
<path fill="#e1e4f9" d="M825.2,822.6L1035.0,822.6L1035.0,859.7L1008.0,861.1L1007.8,929.1L839.4,929.1L838.6,920.6L836.1,911.1L829.3,892.6L825.3,885.1ZM1185.1,822.6L1297.0,822.6L1297.0,929.1L1140.4,929.1L1140.5,890.8L1146.0,890.5L1152.0,889.2L1158.5,886.8L1174.8,879.1L1180.0,877.8L1185.0,877.5Z"/>
<path fill="#e4e6fa" d="M825.2,822.6L1035.0,822.6L1035.0,856.4L1008.0,858.3L1007.8,929.1L846.4,929.1L846.2,925.1L845.2,920.6L841.3,910.6L830.8,891.1L828.3,887.6L825.4,885.1ZM1185.1,822.6L1297.0,822.6L1297.0,929.1L1140.4,929.1L1140.5,894.7L1146.5,894.2L1152.5,892.7L1159.0,889.9L1175.4,881.1L1180.5,879.7L1185.0,879.4Z"/>
<path fill="#e6e9fa" d="M825.2,822.6L1035.0,822.6L1035.0,851.9L1028.0,852.3L1014.5,854.7L1008.0,855.1L1007.7,929.1L857.3,929.1L856.8,925.6L855.6,922.1L849.2,912.1L832.4,889.6L828.6,886.1L825.4,885.1ZM1185.1,822.6L1297.0,822.6L1297.0,929.1L1140.4,929.1L1140.5,899.5L1146.5,899.0L1153.0,897.0L1160.0,893.5L1176.0,883.3L1180.5,881.6L1185.0,881.2Z"/>
<path fill="#e9ebfb" d="M825.2,822.6L1035.0,822.6L1035.0,846.4L1028.0,847.0L1014.0,851.2L1008.0,851.9L1007.7,929.1L870.5,929.1L870.5,914.2L864.5,913.4L857.5,909.8L849.0,903.0L832.8,887.1L829.0,884.7L825.5,884.1ZM1185.1,822.6L1297.0,822.6L1297.0,929.1L1140.4,929.1L1140.5,905.7L1147.0,905.0L1153.5,902.4L1161.0,897.7L1177.0,885.1L1181.0,883.3L1185.0,882.9Z"/>
<path fill="#eceefb" d="M825.2,822.6L1035.0,822.6L1035.0,839.9L1031.0,840.1L1027.5,841.0L1023.0,843.0L1013.0,848.5L1010.5,849.2L1008.0,849.3L1007.7,929.1L870.5,929.1L870.5,905.1L864.0,904.5L857.0,901.9L849.5,897.2L833.7,885.1L829.5,883.1L825.5,882.6ZM1185.1,822.6L1297.0,822.6L1297.0,929.1L1140.4,929.1L1140.5,914.7L1143.5,914.5L1146.5,913.7L1153.0,910.2L1161.5,903.3L1177.6,887.1L1181.5,884.8L1185.0,884.3Z"/>
<path fill="#eef0fc" d="M825.3,822.6L1035.0,822.6L1035.0,830.9L1031.0,831.3L1027.0,833.4L1022.0,837.4L1012.5,846.1L1010.5,847.4L1009.0,847.7L1007.9,848.6L1007.7,929.1L870.5,929.1L870.5,898.7L864.0,898.2L857.5,896.2L850.5,892.8L834.5,882.9L830.0,881.2L825.5,880.7ZM1185.1,822.6L1297.0,822.6L1297.0,929.1L1153.0,929.1L1153.4,925.6L1154.7,922.1L1161.0,912.1L1178.3,889.1L1181.6,886.1L1185.0,885.1Z"/>
<path fill="#f1f3fc" d="M825.3,822.6L1022.4,822.6L1021.7,827.1L1019.2,832.6L1012.2,843.6L1007.9,848.6L1007.7,929.1L870.5,929.1L870.5,893.4L864.5,893.0L858.0,891.5L851.5,888.8L835.0,880.4L830.0,878.9L825.5,878.6ZM1185.1,822.6L1297.0,822.6L1297.0,929.1L1163.0,929.1L1163.3,925.1L1164.3,920.6L1168.7,910.1L1179.7,890.1L1182.1,887.1L1185.0,885.1Z"/>
<path fill="#f4f5fd" d="M825.3,822.6L1016.7,822.6L1016.3,827.1L1014.8,832.6L1009.0,847.1L1007.8,848.6L1007.7,929.1L870.5,929.1L870.5,888.8L864.5,888.5L858.5,887.2L852.0,884.9L836.0,877.9L830.5,876.4L825.5,876.1ZM1185.2,822.6L1297.0,822.6L1297.0,929.1L1169.9,929.1L1170.7,920.6L1173.7,910.1L1181.1,891.1L1183.6,886.6L1185.1,885.1Z"/>
<path fill="#f6f8fd" d="M825.3,822.6L1012.7,822.6L1011.7,832.1L1008.5,847.6L1007.8,848.6L1007.7,929.1L870.5,929.1L870.5,884.4L864.5,884.1L859.0,883.0L853.0,881.1L836.5,874.7L831.0,873.4L825.5,873.1ZM1185.2,822.6L1297.0,822.6L1297.0,929.1L1175.9,929.1L1176.3,921.1L1177.9,911.6L1182.9,891.1L1184.1,886.6L1185.1,885.1Z"/>
<path fill="#f9fafe" d="M825.3,822.6L1009.4,822.6L1007.8,848.6L1007.7,929.1L870.5,929.1L870.5,880.1L865.0,879.8L860.0,879.0L854.0,877.2L837.0,871.0L831.0,869.8L825.5,869.4ZM1185.2,822.6L1297.0,822.6L1297.0,929.1L1181.3,929.1L1181.9,915.6L1185.2,885.1Z"/>
<path fill="#fcfcfe" d="M825.3,822.6L1006.3,822.6L1006.7,840.1L1007.3,847.1L1007.9,848.1L1007.7,929.1L870.5,929.1L870.5,876.3L865.5,876.1L860.5,875.3L837.5,867.2L831.5,865.9L825.5,865.5ZM1185.2,822.6L1297.0,822.6L1297.0,929.1L1186.4,929.1L1186.4,898.6L1185.2,884.6Z"/>
<path fill="#feffff" d="M825.3,822.6L1003.4,822.6L1003.7,829.6L1004.8,837.6L1006.7,846.6L1007.8,848.1L1007.7,929.1L870.5,929.1L870.5,873.3L865.0,873.0L859.5,871.8L842.0,864.9L836.0,862.9L830.5,861.9L825.5,861.6ZM1185.2,822.6L1297.0,822.6L1297.0,929.1L1191.3,929.1L1190.8,915.6L1189.3,901.1L1187.5,891.1L1186.0,886.1L1185.3,885.1Z"/>
<path fill="#fffefc" d="M825.4,822.6L1001.0,822.6L1001.5,829.6L1003.1,837.1L1006.3,846.6L1007.7,848.1L1007.7,929.1L870.6,929.1L870.5,871.3L865.0,871.0L859.0,869.5L842.5,862.2L836.5,860.1L831.0,858.9L825.5,858.6ZM1185.2,822.6L1297.0,822.6L1297.0,929.1L1195.4,929.1L1194.5,916.6L1191.8,901.6L1188.7,890.6L1187.2,887.6L1185.3,885.1Z"/>
<path fill="#fefcf9" d="M825.4,822.6L999.2,822.6L999.9,829.6L1001.9,837.1L1004.9,844.6L1006.1,846.6L1007.7,848.1L1007.7,929.1L870.6,929.1L870.5,870.2L865.0,869.8L859.5,868.3L843.0,860.6L836.5,858.2L831.0,856.9L825.5,856.6ZM1185.2,822.6L1297.0,822.6L1297.0,929.1L1198.2,929.1L1197.1,916.6L1193.6,901.6L1189.4,890.1L1187.9,887.6L1185.4,885.1Z"/>
<path fill="#fefbf5" d="M825.4,822.6L997.3,822.6L998.1,829.6L1000.6,837.1L1004.3,844.6L1007.6,848.1L1007.7,929.1L870.6,929.1L870.5,869.2L865.5,868.9L860.0,867.4L843.0,858.9L836.5,856.3L831.0,855.0L825.5,854.7ZM1185.2,822.6L1297.0,822.6L1297.0,929.1L1201.0,929.1L1200.7,923.1L1199.6,916.6L1195.1,901.1L1192.6,894.6L1190.1,889.6L1188.2,887.1L1185.4,885.1Z"/>
<path fill="#fef9f2" d="M825.4,822.6L995.3,822.6L996.2,829.1L999.3,837.1L1003.6,844.6L1005.3,846.6L1007.6,848.1L1007.7,929.1L870.6,929.1L870.5,868.3L865.5,868.0L860.0,866.3L843.0,857.3L836.5,854.5L831.0,853.1L825.5,852.8ZM1185.2,822.6L1297.0,822.6L1297.0,929.1L1203.8,929.1L1203.4,923.1L1202.2,916.6L1199.9,909.1L1196.7,900.6L1193.4,893.6L1190.7,889.1L1188.5,886.6L1185.4,885.1Z"/>
<path fill="#fef8ef" d="M825.4,822.6L993.1,822.6L994.2,829.1L997.8,837.1L1003.2,845.1L1004.7,846.6L1007.6,848.1L1007.7,929.1L870.6,929.1L870.5,867.5L865.5,867.1L860.0,865.3L843.5,855.9L837.0,852.9L831.0,851.2L825.5,850.8ZM1185.2,822.6L1297.0,822.6L1297.0,929.1L1206.7,929.1L1206.3,923.1L1204.8,916.6L1202.1,909.1L1198.1,900.1L1194.1,892.6L1191.0,888.1L1188.0,885.6L1185.4,885.1Z"/>
<path fill="#fdf6eb" d="M825.4,822.6L990.6,822.6L990.9,825.6L991.9,829.1L996.5,837.6L1002.8,845.6L1004.7,847.1L1007.5,848.1L1007.6,929.1L870.6,929.1L870.5,866.8L865.5,866.3L860.5,864.6L843.5,854.3L837.0,851.1L831.0,849.3L825.5,848.8ZM1185.2,822.6L1297.0,822.6L1297.0,929.1L1209.8,929.1L1209.2,923.1L1207.5,916.6L1204.4,909.1L1199.6,899.6L1195.1,892.1L1191.6,887.6L1188.5,885.2L1185.5,884.7Z"/>
<path fill="#fdf5e8" d="M825.4,822.6L987.6,822.6L988.0,825.6L989.3,829.1L995.2,838.1L1002.4,846.1L1005.0,847.8L1007.5,848.1L1007.6,929.1L870.6,929.1L870.5,866.1L865.5,865.6L860.5,863.7L844.0,852.9L837.0,849.1L831.0,847.2L825.5,846.7ZM1185.3,822.6L1297.0,822.6L1297.0,929.1L1212.9,929.1L1212.4,923.6L1210.4,917.1L1206.9,909.6L1201.0,899.1L1196.0,891.6L1192.2,887.1L1188.5,884.6L1185.5,884.2Z"/>
<path fill="#fdf3e5" d="M825.4,822.6L983.8,822.6L984.3,825.6L986.2,829.1L995.2,840.1L1002.7,847.1L1005.0,848.2L1007.5,848.4L1007.6,929.1L870.6,929.1L870.5,865.4L865.5,864.9L860.5,862.8L844.0,851.1L837.0,847.0L831.0,844.9L825.5,844.4ZM1185.3,822.6L1297.0,822.6L1297.0,929.1L1216.1,929.1L1215.5,923.6L1213.1,917.1L1208.8,909.1L1201.5,897.6L1196.5,890.6L1192.7,886.6L1189.0,884.2L1185.5,883.7Z"/>
<path fill="#fcf2e1" d="M825.4,822.6L975.4,822.6L975.5,826.5L978.5,826.9L981.5,828.9L1000.9,846.6L1004.5,848.5L1007.5,848.8L1007.6,929.1L870.6,929.1L870.5,864.8L866.0,864.4L860.9,862.1L843.5,848.8L836.5,844.5L831.0,842.4L825.5,841.8ZM1185.3,822.6L1297.0,822.6L1297.0,929.1L1219.6,929.1L1218.7,923.6L1216.2,917.6L1211.0,909.1L1201.5,895.6L1196.7,889.6L1192.5,885.6L1189.0,883.7L1185.5,883.2Z"/>
<path fill="#fcf0de" d="M825.4,822.6L975.4,822.6L975.5,831.5L979.0,831.8L982.5,833.3L987.0,836.3L1000.5,847.1L1004.0,848.9L1007.5,849.3L1007.6,929.1L870.6,929.1L870.5,864.2L865.8,863.6L860.8,861.1L843.5,846.7L836.5,841.9L831.0,839.5L825.5,838.7ZM1185.3,822.6L1297.0,822.6L1297.0,929.1L1223.6,929.1L1222.7,924.1L1219.6,918.1L1200.8,893.1L1196.4,888.1L1192.5,884.8L1189.0,883.1L1185.5,882.7Z"/>
<path fill="#fceedb" d="M825.4,822.6L975.4,822.6L975.5,834.4L979.5,834.7L983.0,836.0L988.0,838.9L1000.5,847.8L1004.0,849.4L1007.5,849.7L1007.6,929.1L870.6,929.1L870.5,863.6L866.0,863.1L860.7,860.1L843.0,844.0L835.5,838.3L830.5,835.8L825.5,835.1ZM1185.3,822.6L1297.0,822.6L1297.0,929.1L1229.4,929.1L1228.6,925.6L1225.6,921.1L1199.4,890.1L1195.2,886.1L1192.0,883.9L1188.5,882.5L1185.5,882.2Z"/>
<path fill="#fbedd7" d="M825.4,822.6L975.4,822.6L975.5,836.6L979.5,836.9L983.5,838.2L988.0,840.5L1000.7,848.6L1004.0,849.9L1007.5,850.1L1007.6,929.1L870.6,929.1L870.5,863.1L866.4,862.6L861.9,860.1L857.3,856.1L843.5,841.9L836.0,834.9L830.0,830.7L827.5,829.8L825.5,829.7ZM1185.3,822.6L1297.0,822.6L1297.0,929.1L1236.5,929.1L1236.5,921.1L1233.5,920.9L1231.0,920.0L1224.0,915.1L1216.0,907.4L1200.9,890.6L1195.5,885.5L1190.5,882.6L1185.5,881.7Z"/>
<path fill="#fbebd4" d="M833.8,822.6L975.4,822.6L975.5,838.6L979.5,838.8L983.5,839.9L988.0,842.0L1000.5,849.2L1004.0,850.4L1007.5,850.6L1007.6,929.1L870.6,929.1L870.5,862.6L867.5,862.4L864.5,861.1L861.2,858.6L856.7,854.1L837.7,831.6L834.7,826.6ZM1185.3,822.6L1297.0,822.6L1297.0,929.1L1236.5,929.1L1236.5,916.5L1231.0,915.8L1224.5,912.3L1215.5,904.7L1201.5,890.1L1196.7,885.6L1191.0,882.2L1188.5,881.4L1185.5,881.2Z"/>
<path fill="#faead1" d="M839.2,822.6L975.4,822.6L975.5,840.3L979.5,840.5L983.5,841.5L1000.5,849.9L1004.0,850.9L1007.5,851.1L1007.6,929.1L870.6,929.1L870.5,862.2L867.5,861.9L864.1,860.1L860.3,856.6L854.8,850.1L846.9,839.6L842.3,832.6L839.8,827.1ZM1185.3,822.6L1297.0,822.6L1297.0,929.1L1236.5,929.1L1236.5,913.3L1230.5,912.5L1224.0,909.4L1215.5,902.8L1201.7,889.1L1196.5,884.6L1191.0,881.6L1185.5,880.7Z"/>
<path fill="#fae8ce" d="M843.1,822.6L975.4,822.6L975.5,842.0L979.5,842.1L983.5,843.0L1000.5,850.6L1004.0,851.5L1007.5,851.7L1007.6,929.1L870.6,929.1L870.5,861.7L867.5,861.4L863.9,859.1L860.2,855.1L855.3,848.6L849.3,839.6L845.7,833.1L843.7,827.6ZM1185.3,822.6L1297.0,822.6L1297.0,929.1L1236.5,929.1L1236.5,910.5L1230.0,909.8L1223.5,906.8L1215.5,901.0L1201.8,888.1L1196.9,884.1L1191.0,881.0L1185.5,880.1Z"/>
<path fill="#f9e6ca" d="M846.5,822.6L975.4,822.6L975.5,843.6L979.5,843.8L983.5,844.5L1000.5,851.3L1004.0,852.1L1007.5,852.3L1007.6,929.1L870.7,929.1L870.5,861.3L867.5,860.9L864.4,858.6L860.6,854.1L856.3,847.6L851.7,839.6L848.6,833.1L847.0,827.6ZM1185.3,822.6L1297.0,822.6L1297.0,929.1L1236.5,929.1L1236.5,908.1L1230.0,907.4L1223.0,904.5L1215.0,898.8L1201.9,887.1L1197.0,883.3L1191.0,880.3L1185.5,879.6Z"/>
<path fill="#f9e5c7" d="M849.5,822.6L975.4,822.6L975.5,845.3L983.5,846.1L1000.0,852.0L1004.0,852.8L1007.5,853.0L1007.6,929.1L870.7,929.1L870.5,861.1L867.5,860.3L864.9,858.1L861.5,853.6L857.7,847.1L853.7,839.1L851.3,833.1L849.9,827.6ZM1185.3,822.6L1297.0,822.6L1297.0,929.1L1236.5,929.1L1236.5,905.9L1230.0,905.2L1223.0,902.5L1215.5,897.5L1202.1,886.1L1197.0,882.4L1191.0,879.6L1185.5,878.9Z"/>
<path fill="#f8e3c4" d="M852.2,822.6L975.4,822.6L975.5,847.1L983.5,847.8L1000.0,853.0L1007.5,853.8L1007.6,929.1L870.7,929.1L870.5,861.1L867.5,859.8L865.4,857.6L862.4,853.1L859.1,846.6L853.8,833.1L852.6,827.6ZM1185.3,822.6L1297.0,822.6L1297.0,929.1L1236.5,929.1L1236.5,903.7L1230.0,903.1L1223.0,900.5L1215.5,895.8L1202.4,885.1L1197.0,881.4L1191.0,878.8L1185.5,878.2Z"/>
<path fill="#f8e2c1" d="M854.8,822.6L975.4,822.6L975.5,849.0L983.5,849.6L1000.0,854.1L1007.5,854.8L1007.6,929.1L870.7,929.1L870.5,861.1L867.9,859.6L865.8,857.1L860.6,846.6L856.1,833.1L855.1,827.6ZM1185.3,822.6L1297.0,822.6L1297.0,929.1L1236.5,929.1L1236.5,901.6L1230.0,901.0L1223.0,898.5L1215.5,894.0L1202.8,884.1L1197.5,880.6L1191.5,878.1L1185.5,877.4Z"/>
<path fill="#f7e0bd" d="M857.2,822.6L975.4,822.6L975.5,851.0L983.5,851.5L1000.0,855.3L1007.5,855.9L1007.6,929.1L870.7,929.1L870.5,861.1L868.0,859.1L866.3,856.6L861.9,846.1L858.3,833.1ZM1185.3,822.6L1297.0,822.6L1297.0,929.1L1236.5,929.1L1236.5,899.4L1230.0,898.8L1223.5,896.7L1216.0,892.5L1203.0,882.9L1197.5,879.4L1191.5,877.1L1185.5,876.4Z"/>
<path fill="#f7deba" d="M859.6,822.6L975.4,822.6L975.5,853.0L983.0,853.4L999.5,856.6L1007.5,857.2L1007.6,929.1L870.7,929.1L870.6,861.1L868.5,859.1L867.1,856.6L863.4,846.1L860.4,833.1ZM1185.3,822.6L1297.0,822.6L1297.0,929.1L1236.5,929.1L1236.5,897.3L1230.0,896.8L1223.5,894.7L1216.5,890.9L1203.4,881.6L1198.0,878.4L1191.5,875.9L1185.5,875.3Z"/>
<path fill="#f7ddb7" d="M862.4,822.6L975.4,822.6L975.5,855.6L983.0,855.9L999.5,858.5L1007.5,858.9L1007.6,929.1L870.7,929.1L870.6,861.1L869.2,859.6L867.9,856.6L865.2,846.6L863.0,833.6ZM1185.3,822.6L1297.0,822.6L1297.0,929.1L1236.6,929.1L1236.5,894.7L1230.0,894.2L1224.0,892.4L1217.0,888.9L1204.0,880.1L1198.5,876.9L1192.0,874.5L1185.5,873.8Z"/>
<path fill="#f6dbb3" d="M865.3,822.6L975.4,822.6L975.5,858.4L983.0,858.7L999.5,860.7L1007.5,861.0L1007.6,929.1L870.7,929.1L870.6,861.1L869.5,859.6L868.8,857.1L867.1,848.1L865.7,834.6ZM1185.4,822.6L1297.0,822.6L1297.0,929.1L1236.6,929.1L1236.5,892.2L1230.5,891.7L1224.0,889.9L1217.5,886.7L1204.4,878.1L1198.5,874.9L1192.0,872.7L1185.5,872.1Z"/>
<path fill="#f6dab0" d="M868.2,822.6L975.3,822.6L975.5,861.3L1007.5,863.4L1007.6,929.1L870.7,929.1L870.7,861.1L869.9,860.1L868.8,849.6ZM1185.4,822.6L1297.0,822.6L1297.0,929.1L1236.6,929.1L1236.5,889.7L1230.5,889.3L1224.5,887.6L1218.0,884.5L1205.0,876.2L1199.0,873.0L1192.5,870.8L1185.5,870.1Z"/>
<path fill="#f5d8ad" d="M871.2,822.6L975.3,822.6L975.5,864.3L1007.5,865.9L1007.6,929.1L870.7,929.1L870.7,862.6L870.2,854.1ZM1185.4,822.6L1297.0,822.6L1297.0,929.1L1236.6,929.1L1236.5,887.4L1230.5,886.9L1225.0,885.4L1218.5,882.3L1205.5,874.0L1199.5,870.8L1192.5,868.5L1185.5,867.8Z"/>
<path fill="#f5d7a9" d="M874.3,822.6L975.3,822.6L975.5,867.2L1007.5,868.5L1007.6,929.1L870.7,929.1L870.7,859.6L873.7,833.6ZM1185.4,822.6L1297.0,822.6L1297.0,929.1L1236.6,929.1L1236.5,885.2L1230.0,884.7L1223.5,882.5L1218.0,879.5L1205.0,871.2L1198.0,867.7L1191.5,865.9L1185.5,865.4Z"/>
<path fill="#f5d5a6" d="M877.6,822.6L975.3,822.6L975.5,870.0L1007.5,871.1L1007.6,929.1L870.7,929.1L870.8,861.1L876.4,835.6L877.3,828.6ZM1185.4,822.6L1297.0,822.6L1297.0,929.1L1236.6,929.1L1236.5,883.2L1230.5,882.8L1224.0,880.5L1218.5,877.5L1205.5,868.8L1198.5,865.3L1192.0,863.3L1185.5,862.8Z"/>
<path fill="#f4d3a3" d="M881.2,822.6L975.3,822.6L975.5,872.6L1007.5,873.5L1007.6,929.1L870.7,929.1L870.8,861.1L874.3,852.1L879.2,836.6L880.8,829.1ZM1185.4,822.6L1297.0,822.6L1297.0,929.1L1236.6,929.1L1236.5,881.5L1230.5,881.0L1224.5,878.8L1219.1,875.6L1206.0,866.5L1199.0,862.8L1192.0,860.6L1185.5,860.0Z"/>
<path fill="#f4d29f" d="M885.4,822.6L975.3,822.6L975.5,874.9L1007.5,875.8L1007.5,929.1L870.7,929.1L870.8,861.1L875.2,853.6L882.3,837.1L884.7,829.1ZM1185.4,822.6L1297.0,822.6L1297.0,929.1L1236.6,929.1L1236.5,880.0L1230.5,879.4L1224.9,877.1L1220.0,874.1L1206.5,864.1L1199.0,860.0L1192.0,857.7L1185.5,857.1Z"/>
<path fill="#f4d09d" d="M892.7,822.6L975.3,822.6L975.5,877.7L1007.5,878.6L1007.5,929.1L870.8,929.1L870.9,861.1L873.4,859.1L876.2,855.6L888.1,836.6L891.6,829.1ZM1185.4,822.6L1297.0,822.6L1297.0,929.1L1236.7,929.1L1236.5,878.2L1231.0,877.6L1225.5,875.1L1220.4,871.6L1207.5,861.1L1199.5,856.2L1192.5,853.6L1185.5,852.8Z"/>
<path fill="#f3ce99" d="M909.5,822.6L975.3,822.6L975.5,880.7L1007.5,881.8L1007.5,929.1L870.8,929.1L870.9,861.1L873.5,860.7L876.4,858.6L890.5,843.9L898.5,836.9L904.5,833.4L909.5,832.7ZM1185.4,822.6L1297.0,822.6L1297.0,929.1L1236.7,929.1L1236.5,876.3L1231.5,875.7L1226.4,873.1L1222.0,869.6L1208.5,857.0L1200.0,850.9L1192.5,847.6L1185.5,846.8Z"/>
<path fill="#f3cc96" d="M909.5,822.6L975.3,822.6L975.5,883.6L1007.5,884.9L1007.5,929.1L870.8,929.1L871.0,862.5L874.0,862.2L877.3,860.6L891.0,850.6L897.5,846.7L903.5,844.5L909.5,843.9ZM1185.4,822.6L1297.0,822.6L1297.0,929.1L1236.7,929.1L1236.5,874.6L1232.0,874.0L1226.8,870.6L1209.0,851.3L1199.5,842.9L1192.0,838.6L1188.5,837.6L1185.5,837.4Z"/>
<path fill="#f2ca93" d="M909.5,822.6L975.3,822.6L975.5,886.3L1007.5,888.0L1007.5,929.1L870.8,929.1L871.0,864.5L874.5,864.2L878.5,862.9L892.0,855.6L898.0,853.0L904.0,851.5L909.5,851.2ZM1201.2,822.6L1297.0,822.6L1297.0,929.1L1236.7,929.1L1236.5,873.0L1233.5,872.7L1230.9,871.1L1227.5,867.6L1223.4,862.1L1205.0,834.6L1202.0,828.1Z"/>
<path fill="#f2c890" d="M909.5,822.6L975.2,822.6L975.5,888.9L1007.5,891.1L1007.5,929.1L870.8,929.1L871.0,866.9L875.0,866.7L879.0,865.7L893.0,860.2L899.0,858.3L904.0,857.4L909.5,857.1ZM1216.6,822.6L1297.0,822.6L1297.0,929.1L1236.7,929.1L1236.6,872.6L1233.9,870.6L1231.2,866.6L1222.5,847.1L1218.0,833.6L1216.9,828.1Z"/>
<path fill="#f2c68d" d="M909.5,822.6L975.2,822.6L975.5,891.4L983.5,891.8L1000.0,894.0L1007.5,894.3L1007.5,929.1L870.8,929.1L871.0,869.8L879.5,868.9L899.5,863.3L909.5,862.4ZM1233.4,822.6L1297.0,822.6L1297.0,929.1L1236.8,929.1L1236.7,872.6L1233.9,836.1Z"/>
<path fill="#f1c48a" d="M909.6,822.6L975.2,822.6L975.5,893.8L983.0,894.3L1000.0,897.3L1007.5,897.7L1007.5,929.1L870.8,929.1L871.0,873.2L880.0,872.4L900.0,868.0L909.5,867.3ZM1252.2,822.6L1297.0,822.6L1297.0,929.1L1236.8,929.1L1236.9,872.6L1239.6,871.1L1242.0,868.1L1244.1,863.6L1246.4,857.1L1250.8,838.1L1251.8,830.1Z"/>
<path fill="#f1c287" d="M909.6,822.6L975.2,822.6L975.5,896.1L983.0,896.7L999.5,900.8L1007.5,901.4L1007.5,929.1L870.8,929.1L871.0,876.7L880.5,876.0L900.0,872.3L909.5,871.7ZM1267.2,822.6L1297.0,822.6L1297.0,929.1L1236.8,929.1L1237.0,875.2L1241.0,874.5L1244.8,872.1L1248.5,868.1L1252.7,861.6L1259.4,848.6L1264.2,837.6L1266.5,829.6Z"/>
<path fill="#f0c084" d="M909.6,822.6L975.2,822.6L975.5,898.2L979.0,898.3L983.0,899.1L999.5,904.6L1007.5,905.4L1007.5,929.1L870.9,929.1L871.0,880.4L881.0,879.7L900.5,876.1L909.5,875.6ZM1279.3,822.6L1297.0,822.6L1297.0,929.1L1236.8,929.1L1237.0,877.8L1241.5,877.2L1245.5,875.4L1249.5,872.1L1253.9,867.1L1275.5,834.6L1278.5,828.1Z"/>
<path fill="#f0bf87" d="M909.6,822.6L975.2,822.6L975.5,900.4L979.0,900.6L982.3,901.6L994.5,908.0L999.5,910.2L1003.5,911.1L1007.5,911.3L1007.5,929.1L870.9,929.1L871.0,884.9L881.0,884.2L901.0,880.3L909.5,879.8ZM1293.2,836.6L1297.0,836.6L1297.0,929.1L1236.9,929.1L1237.0,880.5L1240.5,880.2L1243.5,879.5L1247.0,877.8L1250.2,875.6L1255.9,870.1L1269.5,853.4L1277.5,845.0L1282.0,841.4L1286.0,838.8L1289.5,837.3Z"/>
<path fill="#efbd8b" d="M909.6,822.6L975.2,822.6L975.5,902.6L978.5,902.9L981.0,904.1L1000.5,921.3L1004.0,923.4L1007.5,923.9L1007.5,929.1L870.9,929.1L871.0,890.6L880.0,889.9L900.0,885.1L909.5,884.2ZM1289.9,847.6L1297.0,847.3L1297.0,929.1L1236.9,929.1L1237.0,884.0L1244.0,883.1L1251.0,879.6L1257.4,874.1L1270.0,860.4L1276.0,854.8L1283.0,850.1Z"/>
<path fill="#efbc8e" d="M909.7,822.6L975.1,822.6L975.4,902.6L980.3,907.1L985.7,915.6L989.0,923.1L989.9,929.1L870.9,929.1L871.0,897.2L875.5,897.0L880.5,896.1L900.5,889.3L905.0,888.4L909.5,888.2ZM1289.5,855.6L1297.0,855.2L1297.0,929.1L1236.9,929.1L1237.0,889.3L1244.5,888.3L1248.5,886.8L1252.5,884.6L1259.5,879.1L1271.5,866.6L1277.0,861.7L1283.5,857.7Z"/>
<path fill="#efbb92" d="M909.7,822.6L975.1,822.6L975.3,902.6L976.5,904.1L980.6,915.6L982.2,922.6L982.7,929.1L870.9,929.1L871.0,905.8L876.0,905.5L881.0,904.1L887.0,901.3L901.0,893.5L905.5,892.1L909.5,891.8ZM1290.7,867.1L1297.0,866.8L1297.0,929.1L1236.9,929.1L1237.0,910.7L1241.0,910.3L1245.0,909.1L1249.5,906.8L1254.0,903.6L1263.5,894.4L1276.4,878.1L1281.0,873.2L1286.0,869.2Z"/>
<path fill="#efba95" d="M909.7,822.6L975.1,822.6L975.2,902.6L975.6,903.6L976.5,914.6L977.1,929.1L870.9,929.1L871.0,923.3L875.0,922.4L879.5,919.3L902.5,897.1L906.0,895.1L909.5,894.8ZM1296.4,870.6L1297.0,870.6L1297.0,929.1L1294.2,929.1L1294.8,901.1Z"/>
<path fill="#eeb999" d="M909.8,822.6L975.1,822.6L975.3,903.1L974.5,904.1L972.4,916.6L971.3,929.1L895.9,929.1L896.9,920.6L900.3,910.6L905.6,899.6L907.5,897.1L909.6,895.6Z"/>
<path fill="#eeb99c" d="M909.8,822.6L975.1,822.6L975.1,903.1L971.5,907.1L966.7,916.1L964.1,923.1L963.4,929.1L909.6,929.1L909.3,902.6L909.7,895.6Z"/>
<path fill="#eeb8a0" d="M909.8,822.6L975.0,822.6L975.0,902.1L972.0,902.3L969.0,903.5L958.0,911.0L953.0,913.7L949.0,915.1L945.5,915.3L945.2,929.1L926.2,929.1L925.3,922.6L922.2,915.1L914.5,901.1L912.4,898.1L909.9,895.6Z"/>
<path fill="#eeb9a4" d="M909.8,822.6L975.0,822.6L975.0,897.4L968.0,898.1L952.5,902.1L945.5,902.7L945.0,911.8L943.0,911.8L938.5,911.0L934.0,909.1L928.0,905.3L916.0,896.4L913.0,894.9L910.0,894.6Z"/>
<path fill="#efb9a7" d="M909.8,822.6L975.0,822.6L975.0,892.0L968.5,892.2L953.5,894.1L945.5,894.5L945.0,901.8L943.5,901.8L939.0,901.4L934.5,900.3L917.0,892.9L913.5,892.0L910.0,891.7Z"/>
<path fill="#efbaab" d="M909.9,822.6L975.0,822.6L975.0,884.9L945.5,886.1L945.0,894.3L936.0,893.6L917.5,888.8L910.0,888.1Z"/>
<path fill="#efbbae" d="M909.9,822.6L975.0,822.6L975.0,877.0L945.5,877.8L945.0,887.5L936.5,887.0L918.0,884.1L910.0,883.6Z"/>
<path fill="#f0bbb2" d="M909.9,822.6L975.0,822.6L975.0,869.1L945.5,870.2L945.0,880.3L937.0,880.1L918.5,878.1L910.0,877.7Z"/>
<path fill="#f0bcb6" d="M909.9,822.6L975.0,822.6L975.0,860.6L967.5,860.9L952.5,862.6L945.5,863.0L945.0,872.4L937.0,872.1L919.0,870.3L910.0,869.9Z"/>
<path fill="#f0bcb9" d="M909.9,822.6L975.0,822.6L975.0,846.9L971.0,847.0L966.5,847.9L951.5,853.8L945.5,854.7L945.0,863.7L936.1,863.1L918.0,860.0L910.0,859.5Z"/>
</g>
<path d="M773.5,929.4V871.2M824.9,822.4V886.6M870.3,929.4V859.7M909.6,822.4V896.7M944.9,929.4V850.6M975.2,822.4V904.6M1007.7,929.4V847.1M1034.8,822.4V904.6M1065.2,929.4V850.6M1100.3,822.4V896.7M1139.8,929.4V859.7M1184.9,822.4V886.6M1236.3,929.4V871.3" stroke="#fff" stroke-width="2.9" fill="none"/>
</svg>
</body></html>
